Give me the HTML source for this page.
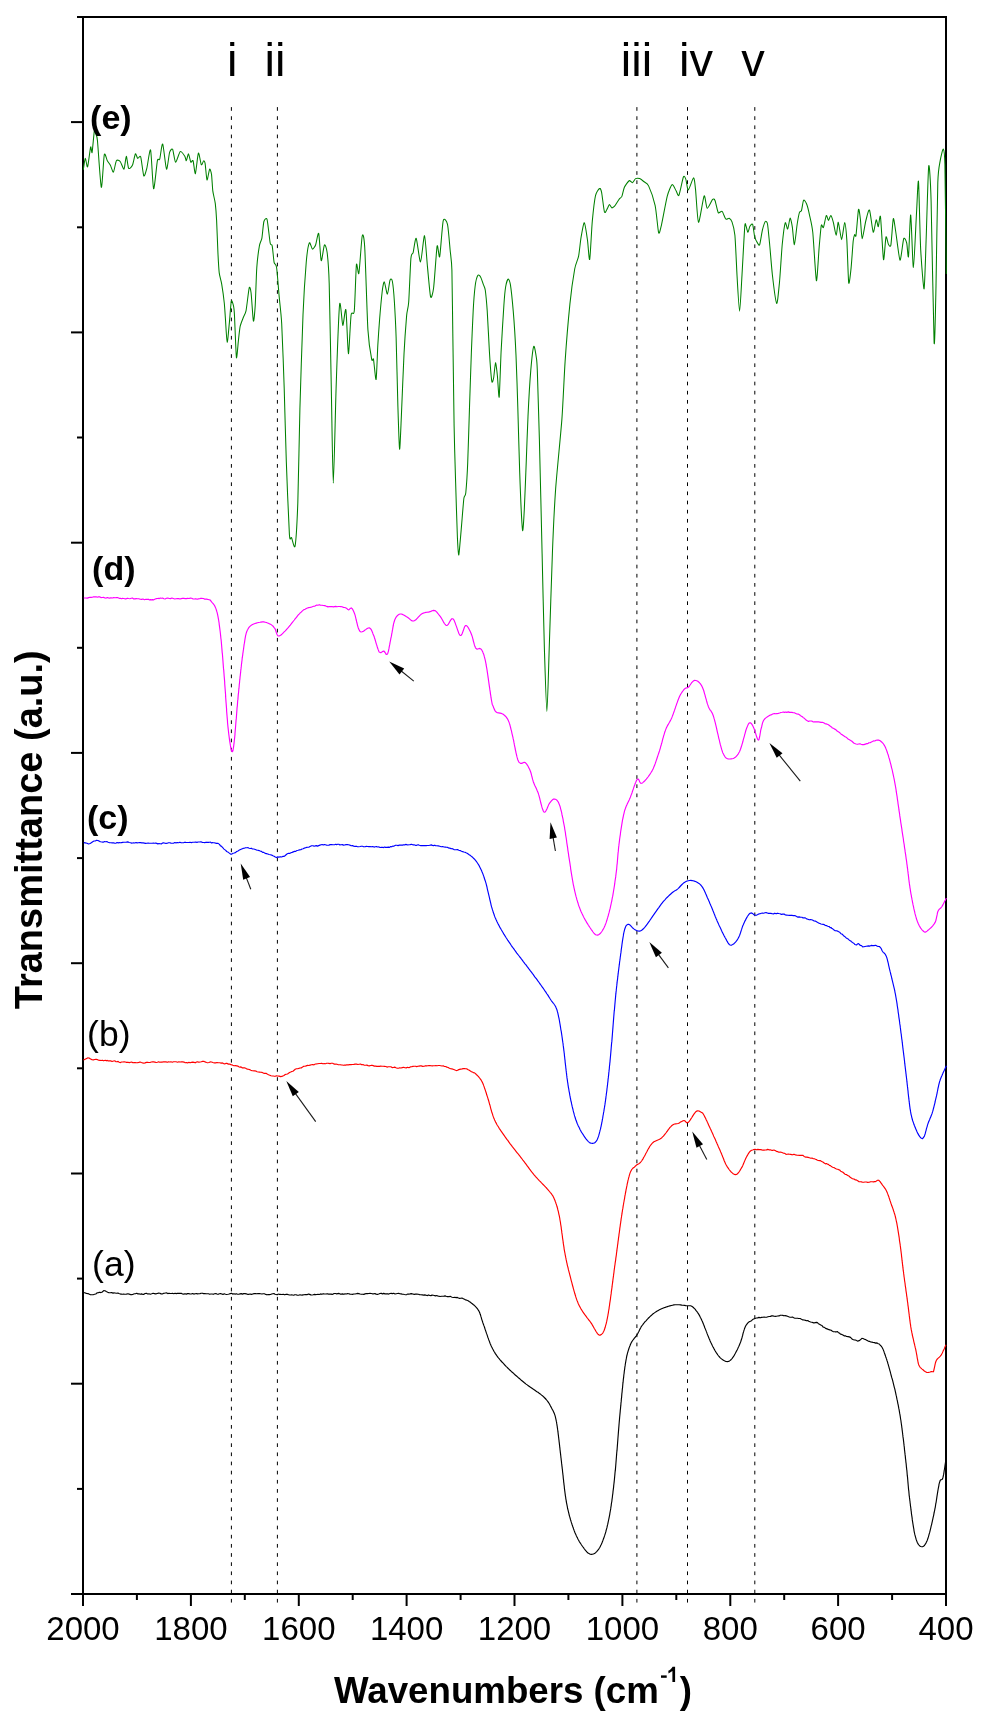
<!DOCTYPE html><html><head><meta charset="utf-8"><style>html,body{margin:0;padding:0;background:#fff;overflow:hidden;width:988px;height:1722px;}svg{display:block;will-change:transform;}text{font-family:"Liberation Sans",sans-serif;}</style></head><body>
<svg width="988" height="1722" viewBox="0 0 988 1722">
<rect width="988" height="1722" fill="#fff"/>
<rect x="83" y="17" width="863" height="1577" fill="none" stroke="#000" stroke-width="2"/>
<line x1="77" y1="17" x2="83" y2="17" stroke="#000" stroke-width="2"/>
<line x1="71" y1="122.1" x2="83" y2="122.1" stroke="#000" stroke-width="2"/>
<line x1="77" y1="227.3" x2="83" y2="227.3" stroke="#000" stroke-width="2"/>
<line x1="71" y1="332.4" x2="83" y2="332.4" stroke="#000" stroke-width="2"/>
<line x1="77" y1="437.5" x2="83" y2="437.5" stroke="#000" stroke-width="2"/>
<line x1="71" y1="542.7" x2="83" y2="542.7" stroke="#000" stroke-width="2"/>
<line x1="77" y1="647.8" x2="83" y2="647.8" stroke="#000" stroke-width="2"/>
<line x1="71" y1="752.9" x2="83" y2="752.9" stroke="#000" stroke-width="2"/>
<line x1="77" y1="858.1" x2="83" y2="858.1" stroke="#000" stroke-width="2"/>
<line x1="71" y1="963.2" x2="83" y2="963.2" stroke="#000" stroke-width="2"/>
<line x1="77" y1="1068.3" x2="83" y2="1068.3" stroke="#000" stroke-width="2"/>
<line x1="71" y1="1173.5" x2="83" y2="1173.5" stroke="#000" stroke-width="2"/>
<line x1="77" y1="1278.6" x2="83" y2="1278.6" stroke="#000" stroke-width="2"/>
<line x1="71" y1="1383.7" x2="83" y2="1383.7" stroke="#000" stroke-width="2"/>
<line x1="77" y1="1488.9" x2="83" y2="1488.9" stroke="#000" stroke-width="2"/>
<line x1="71" y1="1594" x2="83" y2="1594" stroke="#000" stroke-width="2"/>
<line x1="83" y1="1594" x2="83" y2="1606" stroke="#000" stroke-width="2"/>
<text x="83" y="1639.5" font-size="33" text-anchor="middle">2000</text>
<line x1="136.9" y1="1594" x2="136.9" y2="1600" stroke="#000" stroke-width="2"/>
<line x1="190.9" y1="1594" x2="190.9" y2="1606" stroke="#000" stroke-width="2"/>
<text x="190.9" y="1639.5" font-size="33" text-anchor="middle">1800</text>
<line x1="244.8" y1="1594" x2="244.8" y2="1600" stroke="#000" stroke-width="2"/>
<line x1="298.8" y1="1594" x2="298.8" y2="1606" stroke="#000" stroke-width="2"/>
<text x="298.8" y="1639.5" font-size="33" text-anchor="middle">1600</text>
<line x1="352.7" y1="1594" x2="352.7" y2="1600" stroke="#000" stroke-width="2"/>
<line x1="406.6" y1="1594" x2="406.6" y2="1606" stroke="#000" stroke-width="2"/>
<text x="406.6" y="1639.5" font-size="33" text-anchor="middle">1400</text>
<line x1="460.6" y1="1594" x2="460.6" y2="1600" stroke="#000" stroke-width="2"/>
<line x1="514.5" y1="1594" x2="514.5" y2="1606" stroke="#000" stroke-width="2"/>
<text x="514.5" y="1639.5" font-size="33" text-anchor="middle">1200</text>
<line x1="568.4" y1="1594" x2="568.4" y2="1600" stroke="#000" stroke-width="2"/>
<line x1="622.4" y1="1594" x2="622.4" y2="1606" stroke="#000" stroke-width="2"/>
<text x="622.4" y="1639.5" font-size="33" text-anchor="middle">1000</text>
<line x1="676.3" y1="1594" x2="676.3" y2="1600" stroke="#000" stroke-width="2"/>
<line x1="730.3" y1="1594" x2="730.3" y2="1606" stroke="#000" stroke-width="2"/>
<text x="730.3" y="1639.5" font-size="33" text-anchor="middle">800</text>
<line x1="784.2" y1="1594" x2="784.2" y2="1600" stroke="#000" stroke-width="2"/>
<line x1="838.1" y1="1594" x2="838.1" y2="1606" stroke="#000" stroke-width="2"/>
<text x="838.1" y="1639.5" font-size="33" text-anchor="middle">600</text>
<line x1="892.1" y1="1594" x2="892.1" y2="1600" stroke="#000" stroke-width="2"/>
<line x1="946" y1="1594" x2="946" y2="1606" stroke="#000" stroke-width="2"/>
<text x="946" y="1639.5" font-size="33" text-anchor="middle">400</text>
<line x1="231.4" y1="107.1" x2="231.4" y2="1603" stroke="#000" stroke-width="1" stroke-dasharray="3.7 5.452"/>
<line x1="277.4" y1="107.1" x2="277.4" y2="1603" stroke="#000" stroke-width="1" stroke-dasharray="3.7 5.452"/>
<line x1="636.9" y1="107.1" x2="636.9" y2="1603" stroke="#000" stroke-width="1" stroke-dasharray="3.7 5.452"/>
<line x1="687.5" y1="107.1" x2="687.5" y2="1603" stroke="#000" stroke-width="1" stroke-dasharray="3.7 5.452"/>
<line x1="754.8" y1="107.1" x2="754.8" y2="1603" stroke="#000" stroke-width="1" stroke-dasharray="3.7 5.452"/>
<path d="M83.5,1292.6 L84.7,1292.8 L86.4,1293.4 L88,1293.6 L89.3,1294.2 L90.6,1294.8 L92,1294.7 L93.2,1294.7 L94.5,1294.3 L95.8,1294 L97,1292.9 L98.4,1292.6 L99.7,1292.2 L101,1292.6 L102.3,1292 L103.7,1290.6 L105,1290.8 L106.3,1291.5 L107.7,1292.2 L109,1292.8 L110.3,1292.7 L111.6,1292.5 L113,1293.1 L114,1292.9 L115,1293 L116.2,1293.2 L118,1293.1 L118.8,1293.5 L119.7,1293.7 L120.5,1294.1 L121.4,1294.1 L122.4,1294.2 L123.6,1294.1 L124.9,1294.2 L126.3,1294.1 L128,1293.8 L130,1294.4 L130.9,1294.7 L131.8,1294.6 L132.7,1294.5 L133.7,1294 L134.7,1293.7 L135.7,1293.6 L136.8,1293.3 L137.9,1293.9 L139.1,1293.8 L140.2,1294.2 L141.4,1293.9 L142.6,1294.3 L143.9,1294.3 L145.1,1293.5 L146.4,1293.3 L147.7,1294 L149,1293.8 L150.4,1294.2 L151.7,1293.8 L153.1,1293.3 L154.4,1293.6 L155.8,1293.9 L157.2,1293.5 L158.6,1293.1 L160,1293.2 L161.1,1293.9 L162.2,1294 L163.3,1293.4 L164.4,1293.3 L165.5,1293 L166.7,1292.9 L167.8,1293.6 L169,1293.3 L170.2,1293.5 L171.4,1293.5 L172.6,1293.3 L173.8,1293.7 L175,1293.3 L176.3,1293.6 L177.5,1293.3 L178.8,1293.4 L180,1293.3 L181.3,1293.3 L182.5,1294 L183.8,1294.1 L185,1293.7 L186.3,1294.1 L187.6,1293.6 L188.8,1293.6 L190.1,1294 L191.3,1294 L192.6,1293.5 L193.8,1294.1 L195.1,1293.7 L196.3,1293.5 L197.6,1293.9 L198.8,1293.7 L200,1293.6 L201.2,1293.3 L202.4,1293.2 L203.6,1293.6 L204.8,1293.5 L206.1,1293.8 L207.3,1293.7 L208.5,1293.7 L209.7,1294.2 L210.9,1294 L212.1,1294 L213.3,1294.3 L214.5,1293.7 L215.8,1293.5 L217,1294.1 L218.2,1294.3 L219.4,1293.8 L220.6,1293.6 L221.8,1294 L223,1294.4 L224.2,1293.8 L225.5,1294.3 L226.7,1294.5 L227.9,1294.3 L229.1,1294 L230.3,1293.6 L231.5,1293.3 L232.7,1294.1 L233.9,1293.8 L235.2,1294.1 L236.4,1293.8 L237.6,1294.2 L238.8,1294.2 L240,1293.9 L241.2,1293.6 L242.5,1294.1 L243.7,1293.6 L245,1293.6 L246.3,1293.9 L247.5,1294.3 L248.8,1294.3 L250.1,1294 L251.5,1294.4 L252.8,1294 L254.1,1293.6 L255.4,1293.6 L256.7,1293.8 L258,1293.6 L259.3,1293.6 L260.6,1293.8 L261.9,1294 L263.2,1293.7 L264.4,1293.8 L265.7,1294.4 L266.9,1294.8 L268.1,1294.6 L269.4,1294.6 L270.5,1294.5 L271.7,1294 L272.8,1293.7 L273.9,1293.5 L275,1294.3 L276.1,1294.5 L277.1,1294.8 L278.1,1294.1 L279.1,1294.3 L280,1294.3 L281.8,1294.5 L283.4,1294.3 L284.8,1294.8 L286.2,1294.2 L287.4,1294.4 L288.5,1294.7 L289.6,1295 L290.6,1295 L291.6,1294.9 L292.6,1295 L293.7,1295.2 L294.8,1294.7 L295.9,1294.8 L297.2,1295.1 L298.5,1295.2 L300,1294.8 L301,1295 L302,1295.1 L303.1,1294.9 L304.1,1294.8 L305.2,1294.5 L306.3,1294.6 L307.4,1294.6 L308.5,1294.1 L309.6,1294.4 L310.8,1294.9 L312,1295 L313.2,1294.8 L314.4,1294.4 L315.6,1294.6 L316.8,1294.5 L318,1294.3 L319.3,1294.5 L320.6,1293.9 L321.9,1294.3 L323.2,1293.7 L324.5,1294 L325.9,1294 L327.2,1293.7 L328.6,1294.1 L330,1294 L331.1,1294.1 L332.2,1294.4 L333.3,1293.9 L334.4,1293.5 L335.5,1293.5 L336.7,1293.9 L337.8,1293.6 L339,1293.4 L340.2,1294.1 L341.4,1294.1 L342.6,1293.9 L343.8,1294.3 L345,1293.9 L346.3,1294 L347.5,1293.6 L348.8,1293.7 L350,1294.1 L351.3,1294.3 L352.5,1294.4 L353.8,1294 L355,1294 L356.3,1293.7 L357.6,1293.4 L358.8,1293.6 L360.1,1294 L361.3,1294.3 L362.6,1294.2 L363.8,1294.4 L365.1,1293.9 L366.3,1293.5 L367.6,1293.6 L368.8,1293.5 L370,1293.4 L371.2,1293.5 L372.4,1293.8 L373.7,1293.8 L374.9,1293.6 L376.2,1294.1 L377.4,1294.4 L378.7,1294 L379.9,1293.5 L381.2,1293.2 L382.4,1293.9 L383.7,1293.4 L385,1293.9 L386.2,1293.9 L387.5,1293.7 L388.7,1294.1 L390,1293.5 L391.2,1293.4 L392.5,1293.6 L393.7,1293.3 L395,1294 L396.2,1293.7 L397.4,1293.5 L398.6,1293.3 L399.8,1293.8 L401,1293.9 L402.2,1294.1 L403.3,1294.2 L404.5,1294.5 L405.6,1294.7 L406.7,1294.6 L407.8,1294.1 L408.9,1294.1 L410,1293.9 L411.4,1293.6 L412.8,1294 L414.2,1294.4 L415.6,1294.1 L416.9,1294.1 L418.3,1294.2 L419.6,1294.6 L421,1294.7 L422.3,1294.9 L423.6,1295.1 L424.9,1294.9 L426.1,1295.2 L427.4,1295.6 L428.6,1294.9 L429.8,1295.5 L430.9,1295.6 L432.1,1295.1 L433.2,1295.2 L434.3,1295.5 L435.3,1295.9 L436.3,1295.6 L437.3,1295.7 L438.2,1296.1 L439.1,1296.2 L440,1296.5 L441.9,1296.2 L443.6,1296.3 L445,1295.9 L446.2,1296.3 L447.3,1296.6 L448.3,1296.6 L449.2,1296.7 L450.1,1296.3 L451.1,1296.8 L452.1,1297.2 L453.5,1297.5 L454.8,1297.3 L456,1297.6 L457.3,1297.4 L458.5,1298 L459.7,1298.4 L460.8,1298.3 L462,1298.1 L463.3,1298.7 L464.5,1299.3 L465.7,1299.9 L466.9,1300.3 L468.1,1300.7 L469.2,1301.5 L470.4,1302.3 L471.3,1303 L472.3,1303.7 L473.2,1304.5 L474.2,1305.3 L475.1,1306.2 L476,1307.1 L476.9,1308.1 L477.7,1309.2 L478.5,1310.4 L479,1311.3 L479.5,1312.3 L479.9,1313.3 L480.2,1314.3 L480.6,1315.3 L480.9,1316.4 L481.3,1317.6 L481.6,1318.8 L482,1320.1 L482.5,1321.5 L482.9,1322.9 L483.5,1324.5 L483.8,1325.4 L484.2,1326.4 L484.6,1327.5 L484.9,1328.6 L485.3,1329.8 L485.7,1330.9 L486.1,1332.1 L486.5,1333.4 L487,1334.6 L487.4,1335.9 L487.8,1337.2 L488.3,1338.4 L488.7,1339.7 L489.2,1340.9 L489.7,1342.2 L490.1,1343.4 L490.6,1344.5 L491.1,1345.7 L491.6,1346.8 L492.1,1347.8 L492.6,1348.8 L493.3,1350 L493.9,1351.2 L494.6,1352.3 L495.2,1353.4 L495.9,1354.4 L496.6,1355.4 L497.3,1356.3 L498,1357.3 L498.7,1358.2 L499.5,1359.1 L500.3,1360.1 L501.1,1361 L502,1362 L502.9,1362.9 L503.8,1363.9 L504.8,1365 L505.6,1365.8 L506.3,1366.6 L507.2,1367.4 L508,1368.3 L508.9,1369.1 L509.8,1370 L510.7,1370.8 L511.6,1371.7 L512.6,1372.5 L513.6,1373.4 L514.5,1374.3 L515.5,1375.2 L516.5,1376 L517.5,1376.9 L518.4,1377.7 L519.4,1378.5 L520.4,1379.4 L521.3,1380.2 L522.3,1381 L523.2,1381.7 L524.1,1382.5 L525,1383.2 L526.1,1384.1 L527.2,1384.9 L528.3,1385.7 L529.4,1386.5 L530.5,1387.3 L531.6,1388 L532.7,1388.8 L533.8,1389.5 L534.9,1390.2 L535.9,1391 L536.9,1391.7 L538,1392.3 L538.9,1393 L539.9,1393.7 L540.8,1394.4 L541.6,1395.1 L542.4,1395.7 L543.2,1396.4 L544.3,1397.5 L545.3,1398.5 L546.2,1399.5 L547,1400.5 L547.7,1401.4 L548.4,1402.4 L549,1403.3 L549.6,1404.3 L550.1,1405.3 L550.7,1406.4 L551.3,1407.5 L551.8,1408.5 L552.3,1409.4 L552.8,1410.2 L553.2,1411 L553.6,1411.9 L554,1412.8 L554.4,1413.8 L554.8,1414.9 L555.2,1416.2 L555.6,1417.8 L556,1419.6 L556.4,1421.7 L556.6,1422.5 L556.7,1423.4 L556.9,1424.3 L557,1425.3 L557.2,1426.2 L557.3,1427.3 L557.5,1428.3 L557.6,1429.4 L557.8,1430.5 L557.9,1431.7 L558.1,1432.9 L558.2,1434.1 L558.4,1435.3 L558.5,1436.5 L558.7,1437.8 L558.8,1439 L559,1440.3 L559.1,1441.6 L559.3,1442.9 L559.4,1444.2 L559.6,1445.5 L559.7,1446.8 L559.9,1448.2 L560,1449.5 L560.2,1450.8 L560.3,1452.1 L560.5,1453.4 L560.6,1454.7 L560.8,1456 L560.9,1457.3 L561.1,1458.5 L561.2,1459.8 L561.4,1461 L561.5,1462.2 L561.6,1463.4 L561.8,1464.6 L561.9,1465.8 L562.1,1467.1 L562.2,1468.3 L562.4,1469.5 L562.5,1470.8 L562.6,1472 L562.8,1473.3 L562.9,1474.5 L563.1,1475.8 L563.2,1477.1 L563.3,1478.3 L563.5,1479.6 L563.6,1480.8 L563.7,1482.1 L563.9,1483.3 L564,1484.6 L564.2,1485.8 L564.3,1487 L564.4,1488.3 L564.6,1489.5 L564.7,1490.6 L564.9,1491.8 L565,1493 L565.2,1494.1 L565.3,1495.3 L565.5,1496.4 L565.7,1497.5 L565.8,1498.6 L566,1499.6 L566.2,1500.7 L566.3,1501.7 L566.5,1502.7 L566.8,1504.2 L567.1,1505.7 L567.4,1507.1 L567.6,1508.5 L568,1509.8 L568.3,1511.2 L568.6,1512.5 L568.9,1513.7 L569.2,1515 L569.5,1516.2 L569.9,1517.4 L570.2,1518.5 L570.5,1519.7 L570.9,1520.8 L571.2,1521.9 L571.5,1522.9 L571.9,1524 L572.2,1525 L572.6,1526 L572.9,1527 L573.3,1528 L573.6,1529 L574.1,1530.4 L574.6,1531.7 L575.1,1533 L575.7,1534.2 L576.2,1535.4 L576.7,1536.5 L577.3,1537.6 L577.8,1538.7 L578.3,1539.7 L578.9,1540.7 L579.4,1541.7 L580,1542.6 L580.6,1543.5 L581.1,1544.3 L581.7,1545.2 L582.6,1546.5 L583.5,1547.7 L584.4,1549 L585.3,1550.1 L586.2,1551.2 L587.1,1552.2 L588,1553 L589,1553.6 L589.9,1554.1 L590.8,1554.3 L591.8,1554.3 L592.8,1554.1 L593.9,1553.8 L594.9,1553.2 L595.9,1552.4 L596.9,1551.4 L597.9,1550.2 L598.9,1548.8 L599.9,1547.2 L600.3,1546.4 L600.7,1545.6 L601.1,1544.8 L601.5,1543.9 L601.9,1543 L602.3,1542 L602.7,1541 L603.1,1539.9 L603.5,1538.8 L603.9,1537.7 L604.3,1536.6 L604.7,1535.4 L605.1,1534.1 L605.5,1532.8 L605.9,1531.5 L606.2,1530.2 L606.6,1528.8 L607,1527.4 L607.3,1525.9 L607.7,1524.4 L608,1522.9 L608.2,1521.9 L608.4,1521 L608.6,1520 L608.8,1519.1 L609,1518.1 L609.2,1517.1 L609.4,1516.1 L609.6,1515.1 L609.8,1514.1 L609.9,1513.1 L610.1,1512.1 L610.3,1511 L610.5,1510 L610.7,1508.9 L610.8,1507.8 L611,1506.7 L611.2,1505.6 L611.3,1504.4 L611.5,1503.2 L611.7,1502 L611.9,1500.8 L612,1499.6 L612.2,1498.3 L612.4,1497 L612.5,1495.7 L612.7,1494.4 L612.9,1493 L613,1491.6 L613.2,1490.1 L613.4,1488.7 L613.6,1487.1 L613.7,1485.6 L613.9,1484 L614.1,1482.4 L614.2,1481.4 L614.3,1480.5 L614.4,1479.5 L614.5,1478.4 L614.6,1477.4 L614.7,1476.3 L614.8,1475.2 L614.9,1474.1 L615,1473 L615.1,1471.9 L615.3,1470.7 L615.4,1469.6 L615.5,1468.4 L615.6,1467.2 L615.7,1466 L615.8,1464.7 L615.9,1463.5 L616,1462.2 L616.1,1461 L616.2,1459.7 L616.3,1458.4 L616.4,1457.2 L616.5,1455.9 L616.6,1454.6 L616.7,1453.3 L616.8,1452 L617,1450.7 L617.1,1449.4 L617.2,1448 L617.3,1446.7 L617.4,1445.4 L617.5,1444.1 L617.6,1442.8 L617.7,1441.5 L617.8,1440.2 L617.9,1438.8 L618,1437.5 L618.1,1436.2 L618.2,1435 L618.3,1433.7 L618.4,1432.4 L618.5,1431.1 L618.6,1429.9 L618.7,1428.6 L618.8,1427.4 L618.9,1426.2 L619,1424.9 L619.1,1423.7 L619.2,1422.5 L619.3,1421.4 L619.4,1420.2 L619.5,1419.1 L619.6,1417.9 L619.7,1416.8 L619.8,1415.8 L619.9,1414.7 L620,1413.6 L620.1,1412.6 L620.2,1411.6 L620.3,1410.1 L620.5,1408.6 L620.6,1407.2 L620.8,1405.7 L620.9,1404.3 L621,1402.8 L621.2,1401.4 L621.3,1400 L621.4,1398.7 L621.6,1397.3 L621.7,1395.9 L621.8,1394.6 L621.9,1393.3 L622.1,1392 L622.2,1390.7 L622.3,1389.4 L622.5,1388.2 L622.6,1387 L622.7,1385.7 L622.8,1384.5 L622.9,1383.4 L623.1,1382.2 L623.2,1381 L623.3,1379.9 L623.4,1378.8 L623.6,1377.7 L623.7,1376.6 L623.8,1375.5 L623.9,1374.5 L624.1,1373.5 L624.2,1372.4 L624.3,1371.4 L624.4,1370.5 L624.6,1369.5 L624.7,1368.6 L624.8,1367.7 L624.9,1366.8 L625.1,1365.9 L625.2,1365 L625.5,1363.1 L625.8,1361.4 L626.1,1359.7 L626.4,1358.2 L626.6,1356.8 L626.9,1355.5 L627.2,1354.3 L627.5,1353.2 L627.8,1352.1 L628.1,1351.1 L628.4,1350.1 L628.7,1349.2 L629,1348.3 L629.3,1347.4 L629.6,1346.6 L630,1345.7 L630.3,1344.8 L630.9,1343.4 L631.6,1342.1 L632.3,1341 L633,1340 L633.7,1339.1 L634.4,1338.2 L635.1,1337.3 L635.8,1336.5 L636.5,1335.6 L637.1,1334.7 L637.8,1333.5 L638.4,1332.3 L639,1331.2 L639.5,1330 L640.1,1328.9 L640.7,1327.8 L641.3,1326.6 L642.1,1325.5 L642.8,1324.6 L643.5,1323.6 L644.3,1322.7 L645.1,1321.7 L646,1320.8 L646.8,1319.8 L647.7,1318.9 L648.5,1318 L649.4,1317.2 L650.2,1316.4 L651.2,1315.5 L652.2,1314.6 L653.1,1313.8 L654.1,1313.1 L655.1,1312.4 L656.1,1311.7 L657.2,1311 L658.3,1310.4 L659.4,1309.8 L660.5,1309.3 L661.6,1308.8 L662.8,1308.3 L664,1307.8 L665.2,1307.4 L666.3,1307 L667.4,1306.6 L668.5,1306.3 L669.9,1305.9 L671.3,1305.5 L672.6,1305.2 L673.8,1304.9 L675.2,1304.8 L676.6,1304.7 L677.8,1304.7 L679.1,1304.8 L680.5,1304.9 L681.8,1305.1 L683.2,1305.2 L684.5,1305.4 L685.7,1305.6 L686.7,1305.7 L688.3,1305.8 L689.5,1305.7 L690.6,1305.8 L691.7,1306.3 L692.5,1306.8 L693.4,1307.5 L694.2,1308.3 L695.1,1309.2 L695.9,1310.3 L696.8,1311.4 L697.4,1312.3 L698,1313.1 L698.5,1313.9 L699.1,1314.9 L699.7,1315.9 L700.3,1317.2 L701.1,1318.7 L701.9,1320.5 L702.3,1321.3 L702.7,1322.2 L703.1,1323.2 L703.5,1324.3 L703.9,1325.3 L704.4,1326.5 L704.8,1327.7 L705.3,1328.9 L705.8,1330.1 L706.3,1331.4 L706.8,1332.6 L707.2,1333.9 L707.7,1335.1 L708.2,1336.3 L708.7,1337.5 L709.2,1338.7 L709.7,1339.8 L710.1,1340.9 L710.6,1341.9 L711,1342.8 L711.7,1344.2 L712.3,1345.5 L712.9,1346.7 L713.6,1347.9 L714.2,1349.1 L714.8,1350.2 L715.4,1351.2 L716,1352.2 L716.6,1353.2 L717.3,1354.1 L717.9,1355 L718.5,1355.8 L719.1,1356.5 L720.3,1357.8 L721.5,1358.9 L722.7,1359.8 L723.9,1360.6 L725,1361.1 L726.2,1361.5 L727.2,1361.6 L728.3,1361.5 L729.3,1361.1 L730.3,1360.4 L731.2,1359.5 L732.2,1358.3 L733.2,1356.9 L733.7,1356.1 L734.3,1355.3 L734.8,1354.3 L735.4,1353.3 L735.9,1352.3 L736.5,1351.1 L737.1,1350 L737.7,1348.8 L738.2,1347.6 L738.8,1346.4 L739.3,1345.2 L739.8,1344 L740.3,1342.8 L740.7,1341.7 L741.1,1340.5 L741.5,1339.3 L741.9,1338 L742.2,1336.8 L742.6,1335.5 L742.9,1334.2 L743.2,1332.9 L743.6,1331.7 L743.9,1330.6 L744.3,1329.4 L744.6,1328.4 L745,1327.5 L745.4,1326.6 L746.2,1325.1 L747,1324 L747.7,1323.2 L748.6,1322.2 L749.4,1321.6 L750.4,1321.3 L751.5,1320.7 L752.6,1319.6 L753.7,1319.1 L755,1318.5 L756.3,1318 L757.6,1317.9 L759,1317.4 L760.3,1317.8 L761.6,1317.4 L762.9,1317.2 L764.1,1317.1 L765.4,1317.2 L766.6,1317.2 L767.9,1316.8 L769.2,1316.5 L770.4,1316.4 L771.7,1315.9 L772.9,1315.9 L774.1,1316.2 L775.3,1316.4 L776.5,1316.3 L777.7,1316 L779,1315.9 L780.3,1315.2 L781.8,1315.3 L782.8,1315.4 L783.9,1315.8 L785.1,1315.6 L786.3,1315.9 L787.5,1316.2 L788.7,1316.8 L790,1317.2 L791.2,1317.3 L792.5,1317.1 L793.7,1317.7 L794.9,1318.2 L796,1318.3 L797.4,1318.2 L798.8,1318.5 L800.2,1318.5 L801.5,1319.2 L802.9,1319.9 L804.2,1320 L805.5,1320.4 L806.7,1320.8 L807.7,1320.5 L808.7,1321.3 L810.6,1322 L811.9,1322.3 L813,1322.6 L813.9,1323 L815.1,1322.6 L816.6,1322.4 L817.4,1322.6 L818.4,1323.7 L819.5,1324.2 L820.7,1325 L822,1325.6 L823.2,1327.1 L824.4,1327.3 L825.6,1328.4 L827,1328.9 L828.3,1329.4 L829.7,1329.9 L831,1330.1 L832.1,1331 L833.1,1331.6 L835.1,1331.8 L836.6,1331.8 L837.5,1331.6 L838.4,1332.7 L839.4,1333 L840.5,1334.2 L841.8,1334.4 L842.9,1335 L844.1,1335.8 L845.3,1335.8 L846.6,1336.5 L848,1336.6 L849.3,1336.9 L850.5,1337.4 L851.7,1338.7 L852.9,1339.5 L854.2,1339.9 L855.4,1340 L856.5,1340.6 L857.5,1341.1 L858.4,1340.9 L859.7,1340.4 L860.6,1339.6 L861.9,1338.4 L862.9,1338.5 L864.1,1339.1 L865.4,1339.5 L866.7,1340.2 L868.2,1341.1 L869.7,1341.4 L870.8,1342 L872,1342.1 L873.2,1342.5 L874.5,1342.6 L875.7,1343.1 L877,1342.9 L878.2,1343.8 L879.3,1344 L880.2,1345.2 L881,1345.9 L881.7,1346.8 L882.3,1347.7 L882.9,1348.9 L883.4,1350.1 L883.9,1351.4 L884.3,1352.7 L884.9,1354.2 L885.4,1355.7 L885.7,1356.7 L886.1,1357.7 L886.4,1358.7 L886.8,1359.8 L887.1,1360.9 L887.5,1362 L887.8,1363.2 L888.2,1364.4 L888.5,1365.6 L888.9,1366.9 L889.2,1368.1 L889.6,1369.4 L889.9,1370.6 L890.3,1371.9 L890.6,1373.2 L890.9,1374.3 L891.2,1375.5 L891.5,1376.6 L891.8,1377.7 L892.2,1378.9 L892.5,1380 L892.8,1381.2 L893.1,1382.4 L893.4,1383.6 L893.7,1384.8 L894,1386.1 L894.3,1387.3 L894.7,1388.6 L895,1389.9 L895.3,1391.3 L895.6,1392.7 L895.9,1394.1 L896.1,1395.2 L896.4,1396.2 L896.6,1397.3 L896.8,1398.3 L897,1399.4 L897.3,1400.5 L897.5,1401.6 L897.7,1402.7 L897.9,1403.8 L898.2,1404.9 L898.4,1406.1 L898.6,1407.2 L898.8,1408.4 L899.1,1409.6 L899.3,1410.9 L899.5,1412.1 L899.7,1413.4 L900,1414.8 L900.2,1416.1 L900.4,1417.5 L900.6,1419 L900.9,1420.5 L901.1,1422 L901.2,1423 L901.4,1424 L901.5,1425.1 L901.7,1426.2 L901.8,1427.3 L902,1428.4 L902.1,1429.6 L902.3,1430.8 L902.4,1432 L902.6,1433.2 L902.7,1434.4 L902.9,1435.7 L903,1436.9 L903.2,1438.2 L903.4,1439.5 L903.5,1440.7 L903.7,1442 L903.8,1443.3 L904,1444.6 L904.1,1445.9 L904.3,1447.2 L904.4,1448.5 L904.5,1449.8 L904.7,1451.1 L904.8,1452.3 L905,1453.6 L905.1,1454.9 L905.3,1456.1 L905.4,1457.4 L905.5,1458.6 L905.7,1459.8 L905.8,1461 L905.9,1462.1 L906.1,1463.3 L906.2,1464.4 L906.3,1465.5 L906.4,1466.8 L906.6,1468.2 L906.7,1469.5 L906.9,1470.7 L907,1472 L907.1,1473.3 L907.2,1474.5 L907.3,1475.7 L907.5,1476.9 L907.6,1478.1 L907.7,1479.3 L907.8,1480.5 L907.9,1481.7 L908,1482.9 L908.1,1484 L908.2,1485.2 L908.3,1486.3 L908.4,1487.5 L908.5,1488.6 L908.6,1489.8 L908.8,1490.9 L908.9,1492.1 L909,1493.2 L909.1,1494.4 L909.2,1495.6 L909.4,1496.7 L909.5,1497.9 L909.7,1499.1 L909.8,1500.3 L910,1501.5 L910.1,1502.8 L910.3,1504 L910.4,1505.3 L910.6,1506.6 L910.8,1507.9 L910.9,1509.2 L911.1,1510.6 L911.3,1511.9 L911.4,1513.2 L911.6,1514.6 L911.8,1515.9 L912,1517.2 L912.2,1518.6 L912.3,1519.9 L912.5,1521.2 L912.7,1522.4 L912.9,1523.7 L913.1,1524.9 L913.3,1526.1 L913.5,1527.3 L913.7,1528.4 L913.9,1529.5 L914,1530.6 L914.2,1531.6 L914.4,1532.6 L914.6,1533.5 L914.8,1534.4 L915,1535.2 L915.6,1537.4 L916.1,1539.2 L916.7,1540.9 L917.2,1542.3 L917.8,1543.4 L918.4,1544.4 L919,1545.1 L919.6,1545.7 L920.2,1546.2 L920.8,1546.5 L921.7,1546.7 L922.6,1546.7 L923.5,1546.2 L924.4,1545.5 L925.3,1544.2 L926.2,1542.6 L927.2,1540.4 L927.5,1539.6 L927.8,1538.8 L928.1,1537.8 L928.4,1536.9 L928.7,1535.8 L929,1534.7 L929.3,1533.6 L929.7,1532.4 L930,1531.1 L930.3,1529.9 L930.6,1528.6 L930.9,1527.3 L931.2,1525.9 L931.6,1524.6 L931.9,1523.2 L932.2,1521.8 L932.5,1520.4 L932.8,1519.1 L933.1,1517.7 L933.4,1516.4 L933.7,1515.1 L933.9,1513.8 L934.2,1512.5 L934.4,1511.3 L934.7,1510.1 L934.9,1508.9 L935.2,1507.6 L935.4,1506.3 L935.6,1505 L935.8,1503.6 L936.1,1502.3 L936.3,1501 L936.5,1499.6 L936.7,1498.3 L936.9,1496.9 L937.1,1495.6 L937.3,1494.3 L937.5,1493.1 L937.7,1491.8 L937.9,1490.6 L938.1,1489.5 L938.3,1488.3 L938.5,1487.3 L938.7,1486.3 L938.9,1485.3 L939,1484.4 L939.2,1483.6 L939.4,1482.9 L940.2,1480.5 L940.9,1479.7 L941.6,1479.6 L942.3,1479.2 L942.9,1477.7 L943.1,1476.8 L943.3,1475.8 L943.6,1474.7 L943.8,1473.4 L944,1472.1 L944.2,1470.7 L944.5,1469.2 L944.7,1467.8 L944.9,1466.3 L945.1,1464.9 L945.3,1463.6 L945.5,1462.3 L945.6,1461.1 L945.8,1460.1 L945.9,1459.2 L946,1458.5" fill="none" stroke="#000" stroke-width="1.15" stroke-linejoin="round"/>
<path d="M83.5,1060.1 L84.6,1059.5 L86.1,1058.7 L87.6,1057.9 L89.1,1058 L90.6,1059 L92,1059.6 L93.4,1059.9 L94.7,1059.5 L96,1059.2 L97.3,1059.6 L98.6,1060.3 L100,1060.4 L101.1,1060.5 L102.3,1060.2 L103.6,1060.8 L105.3,1060.3 L106.3,1060.8 L107.3,1060.4 L108.4,1060.9 L109.5,1060.8 L110.7,1060.9 L112.1,1061.5 L113.5,1061 L115,1060.9 L116,1061.7 L117,1061.7 L118.1,1061.4 L119.2,1062.2 L120.4,1062.6 L121.6,1062 L122.8,1062 L124.1,1061.8 L125.3,1062 L126.6,1062.4 L127.9,1062.2 L129.3,1062.6 L130.6,1062.2 L131.7,1062.1 L132.8,1062.7 L134,1062.6 L135.2,1062.5 L136.4,1062.7 L137.6,1062.6 L138.9,1062.4 L140.1,1062 L141.4,1062.5 L142.6,1062.9 L143.9,1063.1 L145.1,1062.9 L146.4,1062.4 L147.6,1062.2 L148.8,1062.5 L150,1062.5 L151.3,1062 L152.5,1061.9 L153.7,1061.9 L154.9,1062.1 L156.2,1062.5 L157.4,1062.3 L158.6,1061.8 L159.8,1062.3 L161,1062.1 L162.2,1062.1 L163.5,1061.8 L164.7,1061.9 L166,1061.9 L167.3,1062.3 L168.6,1061.8 L169.8,1062 L171,1061.8 L172.3,1062.2 L173.5,1061.7 L174.8,1061.7 L176.1,1061.8 L177.5,1062.2 L178.8,1061.8 L180.1,1062 L181.4,1061.9 L182.7,1061.9 L184,1062.1 L185.2,1062.7 L186.5,1062.5 L187.7,1062.9 L188.9,1062.3 L190,1062.8 L191.4,1062.4 L192.8,1062.1 L194.1,1062.4 L195.3,1062.8 L196.5,1062 L197.7,1061.8 L198.9,1062.3 L200.1,1062 L201.3,1061.8 L202.5,1061.4 L203.8,1061.3 L205.1,1061.9 L206.5,1062.5 L207.7,1062.8 L208.9,1062.5 L210.2,1061.9 L211.5,1062 L212.9,1062.5 L214.3,1062.9 L215.7,1062.9 L217,1062.5 L218.4,1062.7 L219.8,1062.8 L221.1,1063.1 L222.4,1062.9 L223.6,1063.6 L224.7,1063.9 L225.8,1063.4 L226.8,1063.4 L228.5,1064.1 L229.8,1064 L230.9,1064.8 L231.9,1064.9 L232.8,1065.3 L233.9,1065.7 L235.2,1065.6 L236.9,1065.9 L237.8,1066.1 L238.8,1066.7 L239.9,1067.1 L241,1066.9 L242.1,1067.8 L243.3,1067.8 L244.5,1067.8 L245.7,1068.2 L247,1069.1 L248.3,1069.3 L249.6,1069.6 L250.8,1070.2 L252.1,1070.7 L253.4,1070.8 L254.7,1070.8 L255.9,1071.1 L257.1,1071.7 L258.3,1072 L259.5,1072.1 L260.8,1072.2 L262.1,1072.4 L263.4,1073.1 L264.7,1073.4 L266,1073.3 L267.2,1074.1 L268.5,1074.8 L269.8,1075.2 L271,1075.7 L272.2,1076 L273.3,1076 L274.4,1076.3 L275.5,1076.1 L276.5,1075.8 L277.4,1076 L279.1,1076.1 L280.6,1076.6 L281.8,1076.4 L282.9,1075.9 L284,1075.5 L285,1074.6 L286.2,1074.2 L287.5,1074 L288.5,1073.3 L289.6,1072.6 L290.7,1072.1 L291.8,1071.5 L292.9,1071.2 L294.1,1070.2 L295.2,1069.3 L296.4,1068.8 L297.6,1068.7 L298.8,1068.4 L300.1,1068 L301.3,1067.9 L302.5,1067.1 L303.7,1066.2 L305,1066.1 L306.2,1065.9 L307.5,1065.4 L308.8,1065.5 L310.1,1065.1 L311.4,1064.7 L312.7,1064.5 L314,1064.9 L315.3,1064 L316.5,1063.9 L317.8,1063.7 L319,1063.5 L320.3,1063.5 L321.6,1063.3 L322.9,1063.8 L324.2,1063.6 L325.5,1063.7 L326.7,1063.2 L327.9,1063.2 L329,1063.4 L330.1,1063.7 L331.1,1063.2 L332.7,1063.3 L333.9,1063.9 L334.9,1064.3 L335.9,1064 L337,1064.3 L338.4,1064.8 L340.2,1064.7 L341.2,1064.9 L342.2,1065 L343.3,1065.3 L344.5,1065.1 L345.7,1065.1 L347,1064.7 L348.3,1064.9 L349.7,1064.6 L351,1064.6 L352.4,1064.5 L353.8,1064.4 L355.2,1064.1 L356.5,1064.1 L357.9,1064.5 L359.2,1064.3 L360.5,1064.1 L361.8,1064.8 L363,1064.6 L364.3,1065.2 L365.6,1065.2 L366.8,1065.1 L368.1,1065.6 L369.3,1065.9 L370.6,1065.5 L371.9,1065.2 L373.1,1065.6 L374.4,1066.1 L375.6,1066.1 L376.9,1066.4 L378.2,1066.2 L379.4,1066.4 L380.7,1066.1 L382,1066.2 L383.2,1066.3 L384.5,1066.4 L385.8,1066.5 L387,1067.1 L388.3,1066.7 L389.6,1066.7 L390.9,1066.8 L392.1,1067.6 L393.4,1067.5 L394.7,1067.1 L395.9,1067.7 L397.2,1068.1 L398.5,1068.2 L399.7,1067.8 L401,1068 L402.3,1067.6 L403.6,1067.3 L404.9,1067.8 L406.2,1067.9 L407.6,1067.3 L408.9,1067.7 L410.3,1066.9 L411.6,1066.8 L412.9,1066.4 L414.2,1066.3 L415.5,1066.2 L416.7,1066.6 L417.9,1066.3 L419.1,1066.1 L420.2,1065.9 L421.2,1065.9 L422.7,1066.4 L424.2,1066.3 L425.5,1065.7 L426.7,1065.9 L427.8,1065.8 L428.9,1065.6 L430,1065.6 L431.1,1065.7 L432.2,1065.9 L433.4,1065.7 L434.6,1065.7 L435.9,1065.6 L437.1,1065.7 L438.3,1065.5 L439.6,1065.5 L440.8,1065.7 L442,1066 L443.2,1065.8 L444.4,1066.5 L445.5,1066.5 L446.9,1067.1 L448.2,1067.5 L449.4,1068.3 L450.7,1068.7 L451.9,1068.9 L453.1,1069.3 L454.4,1069.8 L455.6,1070.3 L456.9,1070.6 L458.2,1069.9 L459.5,1069.4 L460.8,1069.1 L462.1,1068.9 L463.3,1068.6 L464.5,1068.5 L465.7,1068.8 L467,1068.9 L468.2,1069.7 L469.3,1070.2 L470.4,1071 L471.5,1071.7 L472.7,1072.1 L473.8,1072.9 L474.6,1072.9 L475.5,1073.6 L476.3,1074.5 L477.1,1075.2 L478,1076.1 L478.8,1077 L479.6,1078 L480.4,1079.1 L481.2,1080.2 L481.9,1081.5 L482.4,1082.4 L482.8,1083.3 L483.2,1084.3 L483.6,1085.4 L484,1086.4 L484.4,1087.6 L484.8,1088.7 L485.2,1089.9 L485.6,1091.1 L486,1092.3 L486.4,1093.5 L486.7,1094.8 L487.2,1096.1 L487.6,1097.4 L488,1098.7 L488.3,1099.8 L488.7,1100.8 L489,1102 L489.3,1103.1 L489.6,1104.3 L490,1105.4 L490.3,1106.6 L490.6,1107.8 L490.9,1109.1 L491.3,1110.3 L491.6,1111.5 L492,1112.7 L492.4,1113.9 L492.8,1115.2 L493.2,1116.4 L493.6,1117.5 L494.1,1118.7 L494.6,1119.9 L495.1,1121 L495.6,1122.1 L496.2,1123.1 L496.7,1124.2 L497.3,1125.2 L498,1126.3 L498.6,1127.3 L499.2,1128.3 L499.9,1129.3 L500.6,1130.4 L501.3,1131.4 L502,1132.4 L502.7,1133.4 L503.4,1134.4 L504.1,1135.4 L504.8,1136.4 L505.5,1137.3 L506.2,1138.3 L506.9,1139.3 L507.6,1140.2 L508.3,1141.2 L509.1,1142.3 L509.8,1143.3 L510.6,1144.3 L511.4,1145.3 L512.1,1146.4 L512.9,1147.4 L513.7,1148.4 L514.5,1149.4 L515.3,1150.4 L516,1151.3 L516.8,1152.3 L517.6,1153.3 L518.4,1154.2 L519.1,1155.2 L519.9,1156.2 L520.6,1157.1 L521.4,1158.1 L522.1,1159 L522.9,1160.1 L523.7,1161.1 L524.5,1162.1 L525.2,1163.2 L526,1164.2 L526.7,1165.2 L527.4,1166.2 L528.2,1167.2 L528.9,1168.2 L529.6,1169.2 L530.4,1170.2 L531.1,1171.2 L531.9,1172.2 L532.7,1173.1 L533.5,1174.1 L534.3,1175.1 L535.1,1176 L535.9,1177 L536.8,1177.9 L537.7,1178.9 L538.6,1179.8 L539.5,1180.8 L540.4,1181.7 L541.3,1182.7 L542.2,1183.6 L543.1,1184.5 L544,1185.4 L544.9,1186.3 L545.7,1187.2 L546.5,1188 L547.2,1188.8 L547.9,1189.6 L548.5,1190.3 L549.5,1191.5 L550.4,1192.6 L551.1,1193.4 L551.8,1194.3 L552.3,1195.1 L552.9,1195.9 L553.4,1196.9 L553.9,1198 L554.5,1199.4 L554.9,1200.3 L555.2,1201.2 L555.6,1202.2 L555.9,1203.2 L556.3,1204.2 L556.6,1205.2 L556.9,1206.3 L557.3,1207.5 L557.6,1208.7 L557.9,1210 L558.3,1211.3 L558.6,1212.8 L558.9,1214.3 L559.3,1215.9 L559.6,1217.6 L559.8,1218.5 L559.9,1219.5 L560.1,1220.5 L560.3,1221.6 L560.5,1222.7 L560.6,1223.8 L560.8,1225 L561,1226.2 L561.2,1227.4 L561.3,1228.6 L561.5,1229.9 L561.7,1231.1 L561.8,1232.4 L562,1233.7 L562.2,1235 L562.4,1236.3 L562.5,1237.6 L562.7,1238.9 L562.9,1240.2 L563.1,1241.5 L563.2,1242.7 L563.4,1244 L563.6,1245.2 L563.8,1246.4 L564,1247.6 L564.1,1248.8 L564.3,1249.9 L564.5,1251 L564.7,1252.1 L565,1253.5 L565.2,1254.8 L565.5,1256.1 L565.7,1257.4 L566,1258.6 L566.2,1259.9 L566.5,1261.1 L566.7,1262.3 L567,1263.4 L567.2,1264.6 L567.5,1265.8 L567.8,1266.9 L568.1,1268 L568.3,1269.2 L568.6,1270.3 L568.9,1271.4 L569.2,1272.6 L569.5,1273.7 L569.8,1274.9 L570.1,1276 L570.4,1277.2 L570.7,1278.4 L571,1279.6 L571.3,1280.8 L571.7,1282.1 L572,1283.3 L572.3,1284.5 L572.6,1285.8 L573,1287 L573.3,1288.3 L573.7,1289.6 L574,1290.8 L574.4,1292.1 L574.7,1293.3 L575.1,1294.5 L575.5,1295.7 L575.8,1296.9 L576.2,1298.1 L576.6,1299.3 L577,1300.4 L577.5,1301.5 L577.9,1302.6 L578.3,1303.7 L578.8,1304.7 L579.4,1305.9 L580,1307.1 L580.6,1308.3 L581.3,1309.4 L582,1310.5 L582.7,1311.6 L583.4,1312.6 L584.1,1313.7 L584.8,1314.7 L585.6,1315.7 L586.3,1316.6 L587,1317.6 L587.7,1318.5 L588.4,1319.4 L589.1,1320.3 L589.8,1321.2 L590.4,1322 L591,1322.9 L591.9,1324.2 L592.7,1325.6 L593.5,1327 L594.3,1328.5 L595.1,1329.8 L595.9,1331.2 L596.6,1332.3 L597.3,1333.4 L598,1334.2 L598.7,1334.8 L599.4,1335.1 L600.1,1335.1 L600.7,1334.9 L601.2,1334.6 L601.7,1334.2 L602.2,1333.7 L602.7,1333.1 L603.2,1332.3 L603.7,1331.3 L604.2,1330.2 L604.7,1328.8 L605.2,1327.3 L605.6,1325.6 L606.2,1323.6 L606.7,1321.4 L607.2,1318.9 L607.4,1318.1 L607.5,1317.3 L607.7,1316.4 L607.9,1315.5 L608,1314.6 L608.2,1313.6 L608.4,1312.6 L608.5,1311.5 L608.7,1310.5 L608.9,1309.4 L609.1,1308.3 L609.2,1307.1 L609.4,1306 L609.6,1304.8 L609.7,1303.6 L609.9,1302.4 L610.1,1301.1 L610.3,1299.9 L610.5,1298.6 L610.6,1297.3 L610.8,1296 L611,1294.7 L611.2,1293.4 L611.3,1292 L611.5,1290.7 L611.7,1289.4 L611.9,1288 L612.1,1286.7 L612.2,1285.3 L612.4,1284 L612.6,1282.6 L612.8,1281.2 L612.9,1279.9 L613.1,1278.6 L613.3,1277.2 L613.5,1275.9 L613.6,1274.6 L613.8,1273.3 L614,1272 L614.1,1270.7 L614.3,1269.4 L614.5,1268.2 L614.6,1266.9 L614.8,1265.7 L615,1264.5 L615.1,1263.4 L615.3,1262.2 L615.5,1260.9 L615.7,1259.6 L615.8,1258.4 L616,1257.1 L616.2,1255.8 L616.4,1254.5 L616.5,1253.3 L616.7,1252 L616.9,1250.7 L617,1249.4 L617.2,1248.2 L617.4,1246.9 L617.5,1245.6 L617.7,1244.4 L617.9,1243.1 L618,1241.8 L618.2,1240.6 L618.4,1239.3 L618.5,1238.1 L618.7,1236.9 L618.9,1235.6 L619,1234.4 L619.2,1233.2 L619.4,1232 L619.5,1230.8 L619.7,1229.6 L619.8,1228.4 L620,1227.2 L620.2,1226 L620.3,1224.9 L620.5,1223.7 L620.7,1222.5 L620.8,1221.4 L621,1220.3 L621.1,1219.1 L621.3,1218 L621.5,1216.9 L621.6,1215.8 L621.8,1214.8 L622,1213.7 L622.1,1212.6 L622.3,1211.6 L622.5,1210.1 L622.8,1208.7 L623,1207.3 L623.2,1205.8 L623.5,1204.4 L623.7,1203 L624,1201.5 L624.2,1200.1 L624.5,1198.8 L624.7,1197.4 L624.9,1196 L625.2,1194.7 L625.4,1193.3 L625.7,1192 L625.9,1190.8 L626.1,1189.5 L626.4,1188.3 L626.6,1187.1 L626.9,1185.9 L627.1,1184.7 L627.3,1183.6 L627.6,1182.5 L627.8,1181.4 L628,1180.4 L628.3,1179.4 L628.5,1178.5 L628.7,1177.6 L629,1176.7 L629.2,1175.9 L629.4,1175.1 L630.1,1172.9 L630.8,1171.2 L631.5,1169.9 L632.2,1169 L632.8,1168.3 L633.5,1167.7 L634.2,1167.2 L634.8,1166.7 L635.5,1166 L636.5,1165.1 L637.4,1164.5 L638.3,1164 L639.3,1163.4 L640.4,1162.5 L641.6,1161 L642.1,1160.2 L642.7,1159.4 L643.2,1158.4 L643.8,1157.3 L644.5,1156.2 L645.1,1155 L645.7,1153.7 L646.4,1152.5 L647.1,1151.2 L647.7,1150 L648.4,1148.8 L649.1,1147.6 L649.7,1146.5 L650.4,1145.5 L651.1,1144.6 L651.7,1143.8 L652.8,1142.7 L653.9,1141.8 L655.1,1141.2 L656.2,1140.7 L657.3,1140.2 L658.4,1139.8 L659.6,1139.3 L660.7,1138.6 L661.8,1137.7 L662.6,1136.9 L663.4,1136.1 L664.2,1135.1 L665,1134.1 L665.9,1133 L666.7,1131.9 L667.5,1130.8 L668.3,1129.7 L669.1,1128.7 L669.8,1127.7 L670.6,1126.9 L671.3,1126.1 L671.9,1125.5 L673.4,1124.5 L674.6,1124 L675.8,1123.9 L676.8,1123.8 L678,1123.5 L679.3,1122.9 L680.5,1122.1 L681.8,1121.4 L683,1120.8 L684.1,1120.5 L685.4,1121.3 L686.5,1122.6 L688.1,1122.5 L688.7,1121.9 L689.4,1121.1 L690.1,1120.1 L690.9,1118.9 L691.7,1117.7 L692.5,1116.4 L693.3,1115.1 L694.1,1113.9 L694.9,1112.9 L695.6,1112 L696.2,1111.4 L697.7,1110.8 L699.1,1111 L700.3,1111.7 L701.3,1112.4 L702.2,1112.7 L702.8,1113.2 L704,1115.3 L704.4,1116 L704.8,1116.9 L705.3,1117.8 L705.8,1118.8 L706.3,1119.9 L706.9,1121.1 L707.4,1122.3 L708,1123.6 L708.6,1124.9 L709.2,1126.2 L709.8,1127.5 L710.4,1128.8 L711,1130 L711.5,1131.3 L712.1,1132.5 L712.6,1133.6 L713.1,1134.7 L713.6,1135.9 L714.1,1137 L714.7,1138.2 L715.2,1139.3 L715.7,1140.5 L716.2,1141.7 L716.7,1142.8 L717.2,1144 L717.7,1145.1 L718.2,1146.3 L718.7,1147.4 L719.2,1148.5 L719.7,1149.6 L720.2,1150.7 L720.7,1151.9 L721.3,1153.2 L721.8,1154.5 L722.3,1155.7 L722.8,1157 L723.3,1158.2 L723.8,1159.5 L724.2,1160.7 L724.7,1161.8 L725.2,1162.9 L725.7,1164 L726.2,1165 L726.8,1166 L727.3,1166.9 L728.2,1168.2 L729.1,1169.5 L730,1170.6 L730.9,1171.7 L731.9,1172.6 L732.8,1173.4 L733.7,1174 L734.6,1174.4 L735.4,1174.6 L736.4,1174.4 L737.3,1173.9 L738.2,1173 L739.1,1171.8 L739.9,1170.6 L740.7,1169.2 L741.5,1167.9 L742.1,1166.9 L742.6,1165.9 L743.1,1164.7 L743.6,1163.6 L744.1,1162.3 L744.6,1161.1 L745.1,1159.9 L745.6,1158.8 L746.1,1157.7 L746.6,1156.8 L747.4,1155.4 L748.1,1154.1 L748.9,1152.9 L749.6,1151.9 L750.5,1151 L751.6,1150.3 L752.7,1150 L753.8,1149.5 L755.1,1149.3 L756.4,1149.8 L757.8,1149.4 L759.2,1149.6 L760.7,1149.6 L761.8,1149.9 L762.9,1150.1 L764.1,1150.1 L765.3,1150 L766.5,1149.9 L767.7,1149.4 L769,1149.8 L770.3,1149.8 L771.6,1150.3 L772.9,1150.3 L774,1150.1 L775.2,1150.5 L776.4,1151.4 L777.6,1151.6 L778.8,1152.2 L780.1,1152 L781.3,1152.3 L782.5,1152.8 L783.7,1153.3 L784.9,1153.4 L786,1154.4 L787,1154.3 L788.4,1154.1 L789.6,1154.2 L790.7,1154.4 L791.7,1154.6 L792.8,1154.8 L794,1154.2 L795.5,1154.9 L797.2,1155.3 L798.1,1155.2 L799.2,1155.4 L800.3,1155.3 L801.5,1155.3 L802.8,1155.3 L804.1,1156.4 L805.4,1157.1 L806.8,1157.1 L808.1,1157.4 L809.4,1157.7 L810.8,1158.2 L812,1158 L813.3,1158.7 L814.4,1158.7 L815.5,1159.2 L816.5,1159.6 L817.4,1160.2 L819.2,1160.6 L820.5,1160.6 L821.5,1161.5 L822.4,1161.7 L823.2,1162.2 L824.2,1163 L825.5,1163.9 L826.4,1163.6 L827.4,1164.1 L828.4,1164.4 L829.4,1165.4 L830.4,1165.6 L831.5,1166.6 L832.6,1167.2 L833.8,1167.5 L835.1,1168.3 L836.4,1169 L837.7,1169.2 L838.6,1169.6 L839.6,1170 L840.7,1171.2 L841.8,1171.7 L842.9,1172.3 L844,1173.3 L845.2,1174.4 L846.4,1174.5 L847.6,1175.5 L848.8,1175.9 L849.9,1177 L851,1177.8 L852.1,1178.5 L853.2,1178.9 L854.1,1179 L855.1,1179.9 L855.9,1179.8 L857.7,1180.8 L859.1,1181.8 L860.4,1181.7 L861.5,1181.9 L862.6,1182.2 L863.7,1182.3 L865,1182 L866.3,1182 L867.7,1182.4 L869.2,1182.3 L870.7,1181.7 L872.1,1181.8 L873.4,1181.9 L874.6,1181.6 L875.6,1181.6 L877.5,1180.3 L878.6,1180.2 L879.3,1180.8 L880.1,1181.7 L880.9,1182.8 L881.7,1183.9 L882.5,1185.1 L883.2,1186 L883.9,1186.9 L884.6,1187.8 L885.3,1188.8 L886,1190 L886.7,1191.4 L887.1,1192.3 L887.5,1193.4 L887.9,1194.4 L888.3,1195.6 L888.8,1196.7 L889.2,1198 L889.6,1199.2 L890,1200.5 L890.5,1201.9 L890.9,1203.2 L891.3,1204.2 L891.6,1205.3 L892,1206.3 L892.4,1207.3 L892.8,1208.4 L893.2,1209.5 L893.5,1210.6 L893.9,1211.7 L894.3,1213 L894.7,1214.2 L895.1,1215.6 L895.4,1217 L895.8,1218.5 L896,1219.5 L896.2,1220.5 L896.4,1221.5 L896.7,1222.6 L896.9,1223.7 L897.1,1224.9 L897.3,1226 L897.5,1227.2 L897.7,1228.4 L897.9,1229.6 L898.1,1230.9 L898.3,1232.1 L898.5,1233.4 L898.7,1234.7 L898.9,1235.9 L899.1,1237.2 L899.3,1238.5 L899.4,1239.8 L899.6,1241.1 L899.8,1242.3 L900,1243.6 L900.2,1244.8 L900.3,1245.9 L900.5,1247.1 L900.6,1248.3 L900.8,1249.4 L900.9,1250.6 L901.1,1251.8 L901.2,1253 L901.4,1254.2 L901.5,1255.4 L901.6,1256.6 L901.8,1257.8 L901.9,1259 L902,1260.2 L902.2,1261.5 L902.3,1262.7 L902.5,1264 L902.6,1265.2 L902.8,1266.4 L902.9,1267.7 L903.1,1269 L903.2,1270.2 L903.4,1271.5 L903.6,1272.7 L903.7,1273.9 L903.9,1275.1 L904,1276.3 L904.2,1277.5 L904.4,1278.8 L904.5,1280 L904.7,1281.3 L904.9,1282.5 L905.1,1283.8 L905.2,1285 L905.4,1286.3 L905.6,1287.6 L905.8,1288.8 L905.9,1290.1 L906.1,1291.3 L906.3,1292.6 L906.5,1293.8 L906.6,1295.1 L906.8,1296.3 L907,1297.5 L907.1,1298.7 L907.3,1299.9 L907.4,1301 L907.6,1302.2 L907.8,1303.5 L907.9,1304.8 L908.1,1306.1 L908.3,1307.3 L908.4,1308.6 L908.6,1309.8 L908.7,1311.1 L908.9,1312.3 L909,1313.5 L909.2,1314.7 L909.3,1315.9 L909.5,1317.1 L909.6,1318.3 L909.8,1319.5 L909.9,1320.7 L910.1,1321.8 L910.2,1323 L910.4,1324.1 L910.6,1325.2 L910.7,1326.4 L910.9,1327.5 L911.1,1328.6 L911.3,1329.9 L911.6,1331.2 L911.8,1332.4 L912.1,1333.7 L912.3,1335 L912.6,1336.2 L912.9,1337.5 L913.2,1338.7 L913.5,1339.9 L913.7,1341.1 L914,1342.3 L914.3,1343.5 L914.6,1344.6 L914.8,1345.7 L915.1,1346.8 L915.3,1347.9 L915.6,1348.9 L915.8,1349.9 L916,1350.9 L916.3,1352.5 L916.6,1354.1 L916.9,1355.6 L917.1,1357 L917.3,1358.3 L917.6,1359.6 L917.8,1360.8 L918,1362 L918.2,1363 L918.5,1364 L918.8,1364.9 L919.6,1366.5 L920.4,1367.6 L921.3,1368.4 L922.1,1369.1 L923,1369.8 L924,1370.7 L925.1,1371.5 L926.1,1372.1 L927.1,1372.5 L928.6,1372.4 L930.1,1372 L931.3,1371.6 L933.4,1371.8 L933.7,1371 L933.9,1370 L934.2,1368.7 L934.5,1367.3 L934.8,1365.9 L935.1,1364.4 L935.4,1363 L935.8,1361.8 L936.2,1360.7 L936.9,1359.5 L937.7,1358.6 L938.5,1357.9 L939.4,1357.1 L940.3,1356.2 L941.1,1355.1 L941.7,1354.1 L942.3,1352.9 L942.9,1351.6 L943.5,1350.2 L944.2,1348.9 L944.7,1347.6 L945.2,1346.4 L945.7,1345.4 L946,1344.7" fill="none" stroke="#ff0000" stroke-width="1.15" stroke-linejoin="round"/>
<path d="M83.8,842.6 L85.2,842.9 L87,843.3 L88.5,844 L90.1,843.5 L91.3,842.7 L92.7,841.7 L94,841 L95.3,841 L96.6,840.3 L97.7,840.5 L98.9,840.9 L100,841.6 L100.8,841.8 L102.8,842.1 L103.6,842.1 L104.6,841.6 L105.7,841.7 L106.8,841.6 L108.1,842.3 L109.4,842.6 L110.8,842.8 L112.2,842.9 L113.6,842.9 L115,843.2 L116.1,843.1 L117.1,842.5 L118.2,842.9 L119.3,842.6 L120.4,842.8 L121.6,842.6 L122.7,842.4 L123.9,842.3 L125.2,842.2 L126.4,842.1 L127.8,841.9 L129.2,842.5 L130.6,842.7 L131.6,843.1 L132.7,843 L133.7,842.8 L134.8,843 L136,842.5 L137.1,842.9 L138.3,842.8 L139.4,842.6 L140.6,842.6 L141.8,842.9 L143.1,842.9 L144.3,843.1 L145.6,843.4 L146.9,843.3 L148.1,843.1 L149.4,843.3 L150.8,843.2 L152.1,843.2 L153.4,843.1 L154.5,843.2 L155.6,843 L156.7,843.4 L157.9,843.9 L159,843.5 L160.2,843.7 L161.3,843.9 L162.5,843.1 L163.7,842.8 L164.9,843.2 L166.1,843.4 L167.3,843.3 L168.5,842.7 L169.7,842.7 L171,843.1 L172.2,843.2 L173.5,843.2 L174.7,842.5 L176,842.9 L177.3,842.5 L178.6,842.7 L179.9,842.2 L181.2,842.8 L182.3,842.7 L183.5,842.7 L184.8,842.2 L186,842.4 L187.3,842.5 L188.7,842.5 L190,842.3 L191.4,842.6 L192.7,842.3 L194.1,842.2 L195.5,842 L196.9,842.4 L198.2,842 L199.6,842 L200.9,841.8 L202.3,842.4 L203.6,842.5 L204.8,842.6 L206.1,842.2 L207.2,842.4 L208.4,842.4 L209.5,842.2 L210.5,842.1 L211.5,843 L212.5,842.6 L213.3,842.7 L214.1,842.7 L216.5,843.4 L218.1,843.4 L219.1,844.1 L219.8,844.7 L220.3,845.8 L220.8,845.8 L221.7,846.6 L222.7,847.5 L223.7,848.9 L224.7,849.6 L225.7,850.4 L226.7,851.5 L227.7,852 L228.5,852.3 L229.3,853.1 L230.8,854.2 L231.8,854.1 L233.1,853.2 L234.2,853 L235.4,852.6 L236.7,851.5 L238,850.9 L239.4,850.1 L240.6,849.5 L241.7,849 L243,848.4 L244.2,848.2 L245.6,847.7 L247,847.8 L248.1,847.6 L249.1,848.3 L250.2,848.5 L251.3,848.2 L252.5,849 L253.8,849 L255.3,849.5 L257.1,850.2 L258,850.3 L259.1,850.6 L260.2,851.1 L261.3,851.3 L262.6,852.4 L263.8,852.4 L265.1,853.4 L266.4,853.6 L267.8,854 L269.1,854.5 L270.4,854.7 L271.7,855.1 L272.9,855.7 L274.1,856.2 L275.3,857 L276.4,857.6 L277.4,856.9 L278.9,857.1 L280.3,856.7 L281.6,857 L282.7,856.4 L283.9,856.4 L285,855.7 L286.1,854.7 L287.3,853.8 L288.6,853.3 L290,853.4 L291,852.6 L292.1,852.4 L293.3,851.9 L294.5,851.4 L295.7,851.4 L297,850.5 L298.2,850.3 L299.5,849.9 L300.8,849.8 L302,849 L303.2,848.8 L304.4,848.1 L305.6,847.7 L306.7,847.4 L307.7,847.3 L309.1,847.1 L310.5,846.2 L311.7,845.7 L312.9,845.8 L314,846.1 L315.2,845.9 L316.3,845.6 L317.5,846.1 L318.7,845.6 L320,845.1 L321.1,844.8 L322.2,844.5 L323.3,845 L324.3,844.5 L325.4,844.8 L326.6,845.1 L327.7,845.2 L328.9,845.1 L330.2,844.6 L331.6,844.5 L333,844.7 L334.6,844.7 L335.6,844.3 L336.6,844.6 L337.7,844.2 L338.8,844.2 L339.9,844.9 L341.1,844.8 L342.3,844.6 L343.5,845.1 L344.7,845 L346,844.6 L347.3,844.6 L348.5,844.8 L349.8,845.1 L351.1,845.8 L352.4,845.6 L353.7,846.1 L355,846.4 L356.3,846.2 L357.6,846.7 L358.9,846.7 L360.1,846.5 L361.3,846.2 L362.5,846.3 L363.7,846.8 L365,846.7 L366.3,846.4 L367.6,846.5 L368.8,846.6 L370.1,846.5 L371.4,846.8 L372.7,846.5 L374,847.1 L375.3,846.8 L376.5,846.6 L377.7,847 L379,846.9 L380.1,847.5 L381.3,847.3 L382.4,847.3 L383.5,847.6 L384.6,847.1 L385.6,847.4 L387.1,847.4 L388.4,847.1 L389.6,847.4 L390.7,846.5 L391.7,846.8 L392.7,846.1 L393.6,846.3 L394.6,845.7 L395.7,845.2 L396.8,845.3 L398,845.6 L399.4,845.1 L400.9,845 L402.6,845.1 L403.5,844.8 L404.5,844.9 L405.6,844.4 L406.7,844.6 L407.8,845 L409,844.8 L410.2,844.6 L411.5,844.3 L412.8,844.8 L414.1,844.8 L415.4,845.3 L416.7,845.3 L418.1,844.7 L419.4,845.3 L420.8,845.6 L422.2,845.6 L423.5,845.6 L424.8,845.5 L426.2,845.6 L427.5,845.5 L428.7,845.5 L430,845.2 L431.2,844.9 L432.4,845.4 L433.5,845.6 L434.6,845.2 L435.6,845.6 L436.6,845.8 L438.2,845.9 L439.8,846.3 L441.2,846.7 L442.6,846.5 L444,847 L445.3,847.1 L446.5,847.3 L447.7,847.4 L448.8,848.1 L449.9,848.1 L451,848.7 L452,848.6 L453,849 L454,849.6 L455,849.7 L456,849.7 L457.5,849.6 L458.9,850.2 L460.3,850.6 L461.5,851.2 L462.7,851.6 L463.8,852 L465,852.3 L466,852.8 L467.1,853.3 L468.2,854 L469.2,854.7 L470.1,855.3 L471.1,856.1 L472,856.8 L472.9,857.6 L473.8,858.5 L474.7,859.4 L475.5,860.4 L476.3,861.4 L477.1,862.5 L477.9,863.7 L478.5,864.6 L479,865.5 L479.5,866.4 L480,867.4 L480.5,868.4 L481,869.4 L481.5,870.4 L481.9,871.5 L482.4,872.7 L482.9,873.9 L483.3,875.1 L483.8,876.4 L484.2,877.8 L484.7,879.2 L485.2,880.7 L485.5,881.7 L485.8,882.7 L486.1,883.7 L486.4,884.8 L486.7,886 L487,887.1 L487.2,888.3 L487.5,889.6 L487.8,890.8 L488.1,892.1 L488.4,893.4 L488.7,894.7 L489,895.9 L489.3,897.2 L489.6,898.5 L489.9,899.8 L490.2,901 L490.5,902.3 L490.8,903.5 L491,904.6 L491.3,905.8 L491.6,906.9 L491.9,907.9 L492.2,908.9 L492.5,909.9 L493,911.4 L493.4,912.8 L493.9,914 L494.3,915.2 L494.7,916.4 L495.1,917.5 L495.6,918.5 L496,919.5 L496.5,920.5 L496.9,921.5 L497.4,922.5 L497.9,923.5 L498.5,924.6 L499.1,925.7 L499.7,926.9 L500.2,927.9 L500.8,928.8 L501.3,929.8 L501.9,930.8 L502.5,931.8 L503.1,932.8 L503.7,933.9 L504.4,934.9 L505,935.9 L505.7,937 L506.3,938 L507,939 L507.7,940.1 L508.4,941.1 L509.1,942.2 L509.8,943.2 L510.5,944.2 L511.2,945.3 L511.9,946.3 L512.6,947.3 L513.3,948.2 L514,949.2 L514.7,950.2 L515.4,951.1 L516.1,952.1 L516.8,953.1 L517.6,954.1 L518.3,955 L519.1,956 L519.8,957 L520.6,957.9 L521.3,958.9 L522.1,959.9 L522.8,960.8 L523.5,961.8 L524.3,962.8 L525,963.8 L525.8,964.7 L526.5,965.7 L527.2,966.7 L528,967.7 L528.7,968.7 L529.5,969.7 L530.2,970.7 L531,971.7 L531.8,972.7 L532.5,973.7 L533.3,974.7 L534.1,975.8 L534.8,976.8 L535.6,977.8 L536.3,978.7 L537,979.7 L537.7,980.7 L538.4,981.6 L539.1,982.5 L539.7,983.5 L540.4,984.3 L541,985.2 L541.8,986.4 L542.7,987.6 L543.5,988.7 L544.2,989.8 L544.9,990.9 L545.7,991.9 L546.3,992.9 L547,994 L547.7,994.9 L548.3,995.9 L548.9,996.9 L549.5,997.8 L550.1,998.8 L550.7,999.7 L551.4,1000.8 L552.1,1001.7 L552.8,1002.5 L553.4,1003.3 L554,1004 L554.5,1004.8 L555.1,1005.7 L555.7,1006.7 L556.2,1008 L556.8,1009.4 L557.3,1011.2 L557.5,1012 L557.8,1012.9 L558,1013.8 L558.2,1014.8 L558.4,1015.7 L558.6,1016.8 L558.9,1017.8 L559.1,1018.9 L559.3,1020 L559.5,1021.1 L559.7,1022.3 L559.9,1023.5 L560.1,1024.7 L560.3,1025.9 L560.5,1027.2 L560.7,1028.5 L560.9,1029.8 L561.2,1031.1 L561.4,1032.4 L561.6,1033.8 L561.8,1035.2 L562,1036.5 L562.2,1037.9 L562.4,1039.3 L562.6,1040.8 L562.8,1042.2 L563,1043.3 L563.1,1044.3 L563.2,1045.4 L563.4,1046.6 L563.5,1047.7 L563.7,1048.9 L563.8,1050.1 L564,1051.3 L564.1,1052.5 L564.3,1053.7 L564.4,1055 L564.5,1056.2 L564.7,1057.5 L564.8,1058.8 L565,1060.1 L565.1,1061.3 L565.2,1062.6 L565.4,1063.9 L565.5,1065.2 L565.7,1066.5 L565.8,1067.8 L566,1069.1 L566.1,1070.4 L566.3,1071.7 L566.4,1072.9 L566.6,1074.2 L566.7,1075.4 L566.9,1076.7 L567,1077.9 L567.2,1079.1 L567.4,1080.3 L567.5,1081.5 L567.7,1082.6 L567.9,1083.7 L568,1084.8 L568.2,1085.9 L568.4,1087.3 L568.7,1088.6 L568.9,1090 L569.1,1091.3 L569.4,1092.6 L569.6,1093.9 L569.8,1095.2 L570.1,1096.5 L570.3,1097.8 L570.6,1099 L570.8,1100.3 L571.1,1101.5 L571.4,1102.7 L571.6,1103.9 L571.9,1105.1 L572.1,1106.2 L572.4,1107.4 L572.7,1108.5 L573,1109.6 L573.2,1110.7 L573.5,1111.8 L573.8,1112.8 L574.1,1113.9 L574.3,1114.9 L574.6,1115.9 L574.9,1116.8 L575.2,1117.8 L575.5,1118.7 L576,1120.3 L576.6,1121.8 L577.1,1123.2 L577.7,1124.6 L578.3,1125.9 L578.9,1127.1 L579.5,1128.3 L580,1129.5 L580.6,1130.5 L581.2,1131.6 L581.8,1132.6 L582.4,1133.5 L583,1134.4 L583.5,1135.3 L584.1,1136.1 L584.6,1136.9 L585.6,1138.4 L586.6,1139.6 L587.5,1140.7 L588.4,1141.6 L589.3,1142.4 L590.2,1142.9 L591,1143.2 L591.9,1143.3 L592.9,1143.3 L593.8,1143.1 L594.7,1142.7 L595.6,1142 L596.5,1140.9 L597.4,1139.2 L598.3,1136.9 L598.5,1136.2 L598.8,1135.4 L599,1134.5 L599.3,1133.6 L599.5,1132.7 L599.8,1131.7 L600,1130.7 L600.3,1129.7 L600.6,1128.6 L600.8,1127.4 L601.1,1126.3 L601.3,1125.1 L601.6,1123.8 L601.8,1122.6 L602.1,1121.3 L602.3,1120 L602.6,1118.7 L602.8,1117.3 L603,1115.9 L603.3,1114.5 L603.5,1113.1 L603.8,1111.7 L604,1110.3 L604.2,1108.8 L604.5,1107.4 L604.7,1105.9 L604.9,1104.9 L605,1103.9 L605.2,1102.8 L605.3,1101.8 L605.5,1100.8 L605.6,1099.7 L605.8,1098.7 L605.9,1097.6 L606,1096.5 L606.2,1095.4 L606.3,1094.3 L606.5,1093.2 L606.6,1092.1 L606.8,1091 L606.9,1089.9 L607,1088.7 L607.2,1087.5 L607.3,1086.4 L607.5,1085.2 L607.6,1084 L607.7,1082.8 L607.9,1081.6 L608,1080.4 L608.1,1079.1 L608.3,1077.9 L608.4,1076.6 L608.6,1075.3 L608.7,1074.1 L608.8,1072.7 L609,1071.4 L609.1,1070.1 L609.3,1068.8 L609.4,1067.4 L609.5,1066 L609.7,1064.6 L609.8,1063.2 L610,1061.8 L610.1,1060.4 L610.2,1059.4 L610.3,1058.3 L610.4,1057.2 L610.5,1056.1 L610.6,1055 L610.7,1053.9 L610.8,1052.7 L610.9,1051.6 L611,1050.4 L611.1,1049.2 L611.2,1048 L611.3,1046.8 L611.4,1045.6 L611.5,1044.4 L611.6,1043.1 L611.8,1041.9 L611.9,1040.7 L612,1039.4 L612.1,1038.1 L612.2,1036.9 L612.3,1035.6 L612.4,1034.3 L612.5,1033 L612.6,1031.7 L612.7,1030.4 L612.8,1029.1 L612.9,1027.9 L613,1026.6 L613.1,1025.3 L613.2,1024 L613.3,1022.7 L613.4,1021.4 L613.5,1020.1 L613.6,1018.9 L613.7,1017.6 L613.8,1016.3 L613.9,1015.1 L614,1013.9 L614.1,1012.6 L614.2,1011.4 L614.4,1010.2 L614.5,1009 L614.6,1007.8 L614.7,1006.6 L614.8,1005.4 L614.9,1004.3 L615,1003.1 L615.1,1002 L615.2,1000.9 L615.3,999.8 L615.4,998.7 L615.5,997.6 L615.6,996.6 L615.7,995.2 L615.9,993.7 L616,992.3 L616.2,990.9 L616.3,989.5 L616.5,988.1 L616.6,986.8 L616.8,985.4 L616.9,984.1 L617.1,982.7 L617.2,981.4 L617.4,980.1 L617.6,978.8 L617.7,977.5 L617.9,976.2 L618,974.9 L618.2,973.7 L618.3,972.5 L618.5,971.2 L618.6,970 L618.8,968.8 L618.9,967.7 L619.1,966.5 L619.2,965.3 L619.4,964.2 L619.5,963.1 L619.6,962 L619.8,960.9 L619.9,959.9 L620.1,958.8 L620.2,957.8 L620.3,956.8 L620.5,955.8 L620.6,954.8 L620.7,953.8 L620.9,952.9 L621,952 L621.1,951.1 L621.3,949.3 L621.6,947.5 L621.8,945.9 L622,944.3 L622.2,942.8 L622.4,941.4 L622.6,940.1 L622.8,938.8 L623,937.6 L623.2,936.5 L623.4,935.4 L623.5,934.4 L623.7,933.4 L623.9,932.5 L624.1,931.6 L624.3,930.8 L624.5,930 L624.7,929.2 L625.5,927 L626.2,925.6 L627,924.8 L627.8,924.4 L628.7,924.3 L629.6,924.7 L630.6,925.6 L631.7,926.8 L632.7,928 L633.8,928.9 L635.1,929.8 L636.5,930.5 L637.9,931 L639.3,931.1 L640.3,930.9 L641.3,930.5 L642.3,929.8 L643.4,928.8 L644.7,927.4 L645.3,926.7 L645.9,925.9 L646.5,925.1 L647.2,924.2 L647.9,923.2 L648.6,922.1 L649.4,921.1 L650.1,920 L650.9,918.9 L651.6,917.8 L652.4,916.7 L653.1,915.7 L653.8,914.7 L654.5,913.7 L655.2,912.7 L655.9,911.7 L656.6,910.6 L657.3,909.6 L658,908.6 L658.8,907.6 L659.5,906.6 L660.2,905.6 L660.9,904.6 L661.6,903.7 L662.3,902.8 L663,901.9 L663.9,900.8 L664.9,899.8 L665.9,898.7 L666.8,897.7 L667.8,896.8 L668.7,895.9 L669.6,895 L670.5,894.2 L671.3,893.5 L672.1,892.8 L673.4,891.8 L674.4,891.1 L675.4,890.6 L676.4,890 L677.5,889.1 L678.3,888.4 L679.2,887.5 L680.1,886.5 L681,885.5 L682,884.5 L682.9,883.6 L683.9,882.8 L684.8,882.2 L686,881.6 L687.2,881 L688.3,880.7 L689.5,880.5 L690.8,880.4 L692.1,880.6 L693.2,880.8 L694.3,881.1 L695.5,881.5 L696.6,882 L697.8,882.7 L699,883.4 L700.1,884.4 L701.2,885.5 L701.8,886.3 L702.4,887.1 L703,888.1 L703.5,889 L704.1,890.1 L704.6,891.2 L705.1,892.3 L705.6,893.5 L706.2,894.8 L706.7,896 L707.3,897.4 L707.9,898.7 L708.5,900.1 L708.9,901.1 L709.4,902.1 L709.8,903.2 L710.3,904.3 L710.8,905.5 L711.3,906.6 L711.8,907.8 L712.3,909 L712.8,910.3 L713.3,911.5 L713.8,912.7 L714.3,914 L714.8,915.2 L715.2,916.4 L715.7,917.5 L716.2,918.7 L716.7,919.8 L717.1,920.9 L717.6,921.9 L718.2,923.2 L718.7,924.4 L719.3,925.7 L719.9,926.9 L720.4,928.1 L721,929.3 L721.5,930.5 L722,931.6 L722.6,932.7 L723.1,933.7 L723.6,934.7 L724.1,935.7 L724.6,936.6 L725,937.5 L725.5,938.3 L726.4,939.9 L727.2,941.4 L727.9,942.6 L728.6,943.7 L729.3,944.5 L730.1,945 L730.9,945.2 L731.7,945.1 L732.6,944.6 L733.6,944 L734.5,943.1 L735.5,942.1 L736.5,940.9 L737.4,939.6 L738.2,938.3 L738.7,937.4 L739.1,936.4 L739.6,935.4 L740,934.2 L740.4,933.1 L740.8,931.8 L741.2,930.6 L741.6,929.4 L742,928.1 L742.4,926.9 L742.8,925.8 L743.3,924.7 L743.7,923.7 L744.3,922.4 L744.9,921.1 L745.6,919.9 L746.2,918.6 L746.9,917.4 L747.6,916.3 L748.2,915.3 L748.9,914.4 L749.5,913.7 L750.1,913.2 L751.5,912.9 L752.7,913.6 L754,914.7 L755.5,915.2 L756.5,915.2 L757.7,914.6 L758.9,913.9 L760.1,913.7 L761.3,913.3 L762.6,913.1 L763.7,913.2 L764.9,912.8 L766.1,912.6 L767.3,913 L768.5,913.4 L769.7,913.4 L771,913.4 L772.2,913.7 L773.5,913.9 L774.8,913.2 L776.1,913.8 L777.4,913.2 L778.8,913.5 L780.1,913.7 L781.4,914.4 L782.8,914.1 L784.1,914 L785.4,915 L786.7,915.1 L788,915.3 L789.2,915.4 L790.5,915.4 L791.8,915.2 L793.1,915.6 L794.3,915.5 L795.4,915.8 L796.5,916.5 L797.9,917.1 L799,916.9 L800.3,917.1 L802,917.3 L803,917.9 L804.1,917.8 L805.3,917.9 L806.6,918.9 L807.9,919.2 L809.2,919.8 L810.5,919.6 L811.7,919.7 L812.9,920.3 L814.1,921 L815.3,921.1 L816.5,921.8 L817.7,922.5 L818.8,923.1 L819.9,923.5 L821,924 L822,924.2 L823.2,924.4 L824.3,924.6 L825.3,925.5 L826.4,925.6 L827.7,926.3 L829.3,926.6 L830.1,927.6 L831,927.5 L832,928.6 L833,929.1 L834.1,930.1 L835.2,930.8 L836.4,930.7 L837.5,931.1 L838.7,931.8 L839.8,932.3 L840.9,933.7 L841.9,934 L843,935 L843.9,936.1 L845.1,936.8 L846.2,937.9 L847.3,938.6 L848.4,939.2 L849.5,940.5 L850.5,940.8 L851.5,941.7 L852.4,942.4 L853.3,943.1 L854.1,943.5 L854.8,944.5 L856.5,945 L857.4,944.1 L858.5,943.6 L859.4,944.5 L860.4,945.5 L861.5,945.6 L862.7,946.9 L863.9,946.8 L865,946.5 L866.2,946.3 L867.4,946.1 L868.6,945.9 L869.9,946.1 L871.2,945.4 L872.6,945.6 L874.1,945.6 L875.6,945.3 L877,946.1 L878.3,946.4 L879.4,946.5 L880.5,947.6 L881.3,948.8 L881.9,950.2 L882.6,951.5 L883.3,952.4 L884.1,953 L884.9,953.8 L885.6,954.9 L886.4,956.6 L886.7,957.4 L887,958.3 L887.3,959.3 L887.5,960.3 L887.8,961.5 L888.1,962.6 L888.4,963.8 L888.6,965.1 L888.9,966.4 L889.2,967.7 L889.5,969.1 L889.9,970.5 L890.2,971.9 L890.5,972.9 L890.7,974 L891,975.1 L891.3,976.2 L891.6,977.4 L891.8,978.5 L892.1,979.7 L892.4,980.9 L892.7,982.1 L893,983.3 L893.3,984.6 L893.6,985.8 L893.9,987.1 L894.2,988.4 L894.5,989.7 L894.8,991 L895,992.3 L895.3,993.6 L895.5,994.7 L895.7,995.9 L895.9,997 L896.1,998.2 L896.3,999.3 L896.5,1000.5 L896.7,1001.7 L896.9,1002.9 L897.1,1004.1 L897.2,1005.3 L897.4,1006.5 L897.6,1007.8 L897.8,1009 L898,1010.2 L898.1,1011.5 L898.3,1012.8 L898.5,1014 L898.7,1015.3 L898.8,1016.6 L899,1017.9 L899.2,1019.2 L899.4,1020.4 L899.5,1021.5 L899.7,1022.7 L899.8,1023.9 L900,1025 L900.2,1026.2 L900.3,1027.4 L900.5,1028.6 L900.6,1029.8 L900.8,1031.1 L900.9,1032.3 L901.1,1033.5 L901.3,1034.7 L901.4,1036 L901.6,1037.2 L901.7,1038.5 L901.9,1039.7 L902.1,1041 L902.2,1042.2 L902.4,1043.5 L902.5,1044.8 L902.7,1046.1 L902.8,1047.3 L903,1048.6 L903.1,1049.8 L903.3,1051 L903.4,1052.2 L903.6,1053.4 L903.7,1054.6 L903.9,1055.8 L904,1057 L904.2,1058.2 L904.3,1059.5 L904.5,1060.7 L904.6,1061.9 L904.7,1063.2 L904.9,1064.4 L905,1065.6 L905.2,1066.9 L905.3,1068.1 L905.5,1069.4 L905.6,1070.6 L905.8,1071.8 L905.9,1073.1 L906.1,1074.3 L906.2,1075.6 L906.4,1076.8 L906.5,1078 L906.7,1079.3 L906.8,1080.5 L906.9,1081.7 L907.1,1083 L907.2,1084.3 L907.4,1085.6 L907.5,1086.9 L907.7,1088.2 L907.8,1089.5 L908,1090.8 L908.1,1092.1 L908.2,1093.5 L908.4,1094.8 L908.5,1096.1 L908.7,1097.4 L908.8,1098.7 L909,1100 L909.1,1101.2 L909.3,1102.5 L909.4,1103.7 L909.6,1104.9 L909.7,1106.1 L909.9,1107.2 L910,1108.3 L910.2,1109.4 L910.4,1110.4 L910.5,1111.4 L910.7,1112.4 L911,1114.1 L911.4,1115.6 L911.7,1117.1 L912.1,1118.5 L912.4,1119.8 L912.8,1121 L913.2,1122.1 L913.6,1123.2 L913.9,1124.3 L914.3,1125.3 L914.7,1126.2 L915.1,1127.2 L915.4,1128.1 L915.8,1129 L916.5,1130.6 L917.1,1132 L917.8,1133.4 L918.5,1134.6 L919.1,1135.7 L919.8,1136.7 L920.4,1137.4 L920.9,1138 L922.6,1138.7 L924.1,1136.7 L924.4,1136 L924.7,1135.1 L925.1,1134 L925.4,1132.8 L925.7,1131.6 L926.1,1130.3 L926.4,1128.9 L926.8,1127.6 L927.2,1126.3 L927.5,1125.1 L927.9,1123.9 L928.3,1122.7 L928.8,1121.6 L929.2,1120.5 L929.7,1119.4 L930.1,1118.3 L930.6,1117.2 L931.1,1116.1 L931.5,1114.9 L932,1113.7 L932.4,1112.4 L932.7,1111.4 L933,1110.3 L933.3,1109.2 L933.6,1108 L933.9,1106.9 L934.2,1105.7 L934.5,1104.5 L934.8,1103.3 L935.1,1102 L935.3,1100.8 L935.6,1099.6 L935.9,1098.3 L936.2,1097.1 L936.5,1095.9 L936.7,1094.8 L937,1093.6 L937.2,1092.4 L937.5,1091.2 L937.7,1090 L937.9,1088.8 L938.2,1087.5 L938.5,1086.3 L938.7,1085.1 L939,1084 L939.3,1082.8 L939.6,1081.6 L940,1080.5 L940.4,1079.3 L940.9,1078 L941.4,1076.7 L942,1075.4 L942.6,1074 L943.1,1072.7 L943.7,1071.5 L944.3,1070.3 L944.8,1069.2 L945.3,1068.1 L945.7,1067.2 L946.1,1066.4 L946.4,1065.8" fill="none" stroke="#0000ff" stroke-width="1.15" stroke-linejoin="round"/>
<path d="M83.8,598 L84.7,598 L85.9,598 L87.3,598.1 L88.7,597.6 L90,597.3 L91.3,597.4 L92.4,597.3 L93.6,596.8 L95.2,596.9 L96.2,596.8 L97.3,597.2 L98.4,596.8 L99.6,596.8 L100.9,597.6 L102.2,597.5 L103.6,597.4 L105,598 L106.2,598.1 L107.3,597.6 L108.5,597.9 L109.8,598.1 L111,597.7 L112.4,598 L113.7,597.6 L115.1,597.7 L116.5,597.5 L118,597.6 L119.1,598.4 L120.2,598.2 L121.4,598.7 L122.5,598.4 L123.7,598.5 L124.9,598.8 L126.2,598.8 L127.4,598.2 L128.7,598.5 L129.9,598.7 L131.2,598.3 L132.5,598.1 L133.7,598.9 L135,598.9 L136.2,598.6 L137.5,598.8 L138.8,598.7 L140.2,599.3 L141.6,599.4 L143,599 L144.4,599.7 L145.8,599.3 L147.1,599.4 L148.4,599.2 L149.6,599.9 L150.7,599.6 L151.7,599.9 L152.6,599.6 L153.4,599.9 L154.2,599.5 L155.9,598.7 L156.6,598.6 L157.4,598.5 L158.3,598.4 L159.3,598.6 L160.3,598.1 L161.5,598.3 L162.6,598.1 L163.9,598.7 L165.1,599 L166.5,598.3 L167.8,598 L169.2,598.5 L170.5,598.6 L171.9,598 L173.3,598.5 L174.7,599 L176,598.7 L177.4,598.5 L178.7,598.6 L180,599 L181.2,598.6 L182.4,598.4 L183.7,598.2 L185,598.6 L186.3,598.6 L187.7,598.4 L189,598.5 L190.4,598.1 L191.7,598.3 L193.1,599 L194.4,599 L195.8,598.7 L197.1,599.2 L198.3,598.9 L199.6,598.7 L200.7,598.4 L201.9,598.4 L202.9,598.5 L203.9,598.6 L204.9,599.3 L205.7,599.1 L206.5,599.1 L209.2,599.7 L210.3,600.1 L210.8,600.8 L211.6,601.9 L212.2,602.6 L212.9,603.3 L213.5,604.1 L214.2,605 L214.8,606.1 L215.4,607.4 L216,608.9 L216.6,610.7 L216.8,611.5 L217.1,612.4 L217.3,613.3 L217.5,614.2 L217.7,615.2 L217.9,616.2 L218.1,617.2 L218.3,618.3 L218.5,619.4 L218.7,620.5 L218.9,621.8 L219.1,623 L219.2,624.3 L219.4,625.7 L219.6,627.1 L219.8,628.6 L220,630.2 L220.2,631.8 L220.4,633.5 L220.5,634.5 L220.6,635.4 L220.7,636.4 L220.8,637.5 L220.9,638.5 L221.1,639.6 L221.2,640.7 L221.3,641.8 L221.4,642.9 L221.5,644.1 L221.6,645.3 L221.7,646.5 L221.8,647.7 L221.9,648.9 L222,650.1 L222.1,651.4 L222.2,652.6 L222.4,653.9 L222.5,655.2 L222.6,656.5 L222.7,657.8 L222.8,659.1 L222.9,660.4 L223,661.7 L223.1,663.1 L223.2,664.4 L223.3,665.7 L223.4,667.1 L223.5,668.4 L223.7,669.8 L223.8,671.1 L223.9,672.5 L224,673.8 L224.1,675.2 L224.2,676.5 L224.3,677.6 L224.4,678.8 L224.5,679.9 L224.6,681.1 L224.7,682.3 L224.7,683.6 L224.8,684.8 L224.9,686.1 L225,687.3 L225.1,688.6 L225.2,689.9 L225.3,691.2 L225.4,692.5 L225.5,693.8 L225.6,695.1 L225.6,696.4 L225.7,697.7 L225.8,699 L225.9,700.4 L226,701.7 L226.1,703 L226.2,704.3 L226.3,705.6 L226.4,706.9 L226.5,708.1 L226.6,709.4 L226.6,710.7 L226.7,711.9 L226.8,713.1 L226.9,714.4 L227,715.5 L227.1,716.7 L227.2,717.9 L227.3,719 L227.4,720.1 L227.5,721.2 L227.5,722.3 L227.6,723.3 L227.7,724.3 L227.8,725.3 L227.9,726.2 L228,727.1 L228.2,728.9 L228.4,730.7 L228.6,732.5 L228.8,734.2 L229,735.8 L229.2,737.4 L229.4,738.9 L229.6,740.4 L229.8,741.7 L230,743 L230.2,744.2 L230.4,745.4 L230.6,746.4 L230.7,747.4 L230.9,748.3 L231.1,749.1 L231.3,749.8 L231.5,750.3 L231.6,750.8 L231.8,751.2 L232.1,751.7 L232.4,751.7 L232.7,751.2 L233,750.3 L233.2,749 L233.5,747.3 L233.8,745.1 L234.1,742.6 L234.4,739.8 L234.5,739 L234.6,738.1 L234.7,737.3 L234.8,736.3 L234.9,735.3 L235,734.3 L235,733.3 L235.1,732.2 L235.2,731 L235.3,729.9 L235.4,728.7 L235.5,727.5 L235.6,726.3 L235.7,725 L235.8,723.7 L235.9,722.4 L236,721.1 L236.1,719.8 L236.3,718.4 L236.4,717.1 L236.5,715.7 L236.6,714.3 L236.7,713 L236.8,711.6 L236.9,710.2 L237,708.8 L237.1,707.4 L237.3,706.1 L237.4,704.7 L237.5,703.4 L237.6,702 L237.7,700.7 L237.9,699.4 L238,698.1 L238.1,696.8 L238.2,695.6 L238.3,694.4 L238.5,693.2 L238.6,692 L238.7,690.8 L238.8,689.5 L239,688.2 L239.1,687 L239.2,685.7 L239.3,684.4 L239.5,683.1 L239.6,681.8 L239.7,680.5 L239.9,679.2 L240,677.9 L240.1,676.6 L240.3,675.3 L240.4,674 L240.6,672.7 L240.7,671.5 L240.8,670.2 L241,668.9 L241.1,667.7 L241.3,666.4 L241.4,665.2 L241.5,664 L241.7,662.8 L241.8,661.6 L242,660.5 L242.1,659.3 L242.2,658.2 L242.4,657.2 L242.5,656.1 L242.7,655.1 L242.8,654 L242.9,653.1 L243.1,652.1 L243.2,651.2 L243.5,649.4 L243.7,647.8 L243.9,646.2 L244.1,644.6 L244.4,643.2 L244.6,641.8 L244.8,640.4 L245,639.1 L245.2,637.9 L245.4,636.8 L245.6,635.7 L245.9,634.6 L246.1,633.6 L246.4,632.6 L246.7,631.7 L247.1,630.8 L247.4,630 L247.9,629.2 L248.3,628.4 L249.2,627.2 L250.2,626.1 L251.3,625.3 L252.5,624.6 L253.7,624 L255,623.5 L256.3,623.1 L257.5,622.8 L258.7,622.5 L259.9,622.3 L260.9,622.1 L262.4,621.9 L263.8,621.9 L265.2,622.2 L266.5,622.5 L267.6,623 L268.8,623.4 L269.8,623.9 L271.1,624.6 L272.1,625.4 L273.1,626.2 L273.9,627.3 L274.8,628.4 L275.4,629.5 L275.8,630.8 L276.2,632.2 L276.7,633.6 L277.2,634.8 L277.8,635.7 L278.6,636 L279.3,635.9 L280.1,635.5 L281,635 L281.9,634.2 L282.8,633.3 L283.9,632.2 L285,631.1 L286.2,629.8 L287.5,628.4 L288.2,627.7 L288.8,626.9 L289.5,626 L290.3,625.1 L291,624.2 L291.8,623.1 L292.6,622.1 L293.5,621 L294.3,620 L295.1,618.9 L296,617.8 L296.8,616.8 L297.7,615.7 L298.5,614.7 L299.4,613.8 L300.2,612.9 L301.1,612.2 L301.9,611.4 L302.7,610.6 L303.9,609.6 L305.1,609.2 L306.3,608.5 L307.5,608 L308.7,607.6 L309.9,607.4 L311.2,607.1 L312.3,606.8 L313.5,606.2 L314.7,606.2 L315.8,605.6 L316.9,605.1 L317.9,605.2 L319.3,604.7 L320.7,605.3 L322,605.2 L323.3,605.5 L324.5,605.6 L325.7,605.9 L326.8,606.4 L328,606.9 L329.1,606.5 L330.5,606.6 L331.9,606.5 L333.2,606.9 L334.5,606.6 L335.8,606.4 L337,606.7 L338.2,606.5 L339.6,606.5 L340.9,606.6 L342.2,606.8 L343.4,607.4 L344.5,607.5 L345.5,607.8 L346.9,608.6 L347.9,609.5 L348.8,609.9 L350.1,608.6 L351.3,607.9 L351.9,608.4 L352.5,609.1 L353.1,610.2 L353.8,611.7 L354.6,613.7 L354.9,614.6 L355.2,615.6 L355.5,616.8 L355.8,618.1 L356.1,619.5 L356.5,621 L356.8,622.5 L357.2,623.9 L357.5,625.3 L357.9,626.7 L358.3,628 L358.7,629.1 L359.2,630.1 L359.6,630.9 L360.1,631.5 L361.1,632 L362.2,631.8 L363.5,631.2 L364.7,630.3 L366,629.4 L367.2,628.5 L368.3,628 L369.2,627.9 L370.1,628.3 L370.8,629 L371.4,629.9 L371.9,631 L372.5,632.4 L373,633.9 L373.7,635.5 L374.1,636.4 L374.4,637.5 L374.8,638.7 L375.2,640 L375.6,641.4 L376,642.8 L376.4,644.2 L376.9,645.6 L377.3,647 L377.7,648.2 L378.1,649.4 L378.5,650.4 L378.8,651.2 L379.2,651.9 L380.8,652.7 L382.4,651.6 L383.8,651 L385.1,652.5 L386.2,654.4 L387.4,654.1 L387.7,653.5 L387.9,652.8 L388.2,651.8 L388.5,650.8 L388.7,649.6 L389,648.4 L389.2,647 L389.5,645.6 L389.8,644.2 L390,642.8 L390.3,641.4 L390.6,640 L390.8,638.7 L391.1,637.4 L391.4,636.2 L391.6,634.9 L391.8,633.5 L392.1,632.2 L392.3,630.8 L392.6,629.4 L392.8,628.1 L393,626.8 L393.3,625.5 L393.5,624.2 L393.8,623.1 L394.1,622 L394.4,621 L394.7,620.1 L395.5,618.3 L396.3,616.9 L397.2,615.8 L398.2,614.9 L399.2,614.3 L400.2,614 L401.3,614 L402.5,614.4 L403.7,615 L405,615.8 L406.2,616.6 L407.4,617.3 L408.5,618 L409.5,618.9 L410.5,619.8 L411.6,620.6 L412.6,621 L413.8,621 L414.6,620.6 L415.5,620 L416.4,619.2 L417.4,618.2 L418.3,617.2 L419.3,616.1 L420.2,615.2 L421.1,614.3 L422,613.7 L423.3,613.1 L424.6,612.7 L425.8,612.4 L427,612.3 L428.2,612.1 L429.3,611.9 L430.8,611.4 L432.2,610.8 L433.5,610.4 L434.8,610.6 L435.7,611.1 L436.6,611.9 L437.4,612.8 L438.3,614 L439.2,615.2 L440.2,616.4 L440.9,617.4 L441.6,618.5 L442.3,619.8 L443,621.1 L443.7,622.4 L444.4,623.5 L445.2,624.5 L445.9,625.2 L446.6,625.5 L447.5,625.2 L448.4,624.1 L449.3,622.5 L450.2,620.9 L451.1,619.5 L452,618.7 L453,618.8 L453.5,619.3 L453.9,620.1 L454.4,621.1 L454.9,622.3 L455.4,623.6 L455.9,625.1 L456.5,626.6 L457,628.1 L457.5,629.6 L458,631 L458.5,632.4 L458.9,633.5 L459.4,634.4 L459.9,635.1 L460.3,635.5 L461,635.5 L461.6,634.7 L462.2,633.5 L462.8,631.9 L463.4,630.2 L464,628.5 L464.5,627 L465.1,626 L465.7,625.5 L466.4,625.6 L467.1,626.1 L467.8,627 L468.5,628.1 L469.2,629.4 L469.9,630.8 L470.6,632.2 L471.2,633.7 L471.6,634.7 L472,635.9 L472.4,637.2 L472.8,638.6 L473.1,640 L473.5,641.5 L473.9,642.9 L474.2,644.2 L474.6,645.5 L475,646.6 L475.4,647.5 L475.8,648.3 L477.1,649.2 L478.5,648.8 L479.9,648.4 L481.2,649.2 L481.6,649.8 L482,650.5 L482.4,651.2 L482.8,652 L483.1,652.9 L483.5,653.8 L483.9,654.9 L484.2,656.2 L484.6,657.6 L485,659.2 L485.4,660.9 L485.8,662.9 L486,663.8 L486.1,664.7 L486.3,665.8 L486.5,666.8 L486.7,668 L486.9,669.2 L487.1,670.5 L487.3,671.8 L487.5,673.1 L487.7,674.5 L487.9,675.8 L488.1,677.3 L488.3,678.7 L488.5,680.1 L488.7,681.5 L488.9,683 L489.1,684.4 L489.3,685.8 L489.5,687.2 L489.7,688.5 L489.9,689.9 L490.1,691.1 L490.3,692.4 L490.4,693.6 L490.6,694.7 L490.8,695.8 L490.9,696.8 L491,697.7 L491.2,698.5 L491.3,699.3 L491.9,702.5 L492.2,704.1 L492.4,704.7 L492.6,705.1 L493,705.9 L493.5,707.2 L494,708.6 L494.6,709.9 L495.3,711.1 L496.2,712.1 L497.3,712.7 L498.6,712.9 L500,713.1 L501.4,713.4 L502.7,714 L503.6,714.6 L504.4,715.3 L505.2,716 L506.1,716.9 L506.8,717.9 L507.6,719.1 L508.3,720.5 L508.7,721.4 L509.1,722.4 L509.4,723.4 L509.8,724.5 L510.1,725.6 L510.4,726.8 L510.7,728 L511,729.3 L511.4,730.7 L511.7,732.1 L512,733.6 L512.4,735.1 L512.6,736.1 L512.9,737.2 L513.1,738.4 L513.4,739.6 L513.7,740.9 L513.9,742.2 L514.2,743.6 L514.4,744.9 L514.7,746.3 L515,747.6 L515.2,749 L515.5,750.3 L515.8,751.5 L516,752.8 L516.3,753.9 L516.5,755 L516.8,756 L517,756.9 L517.2,757.7 L517.9,760 L518.6,761.5 L519.1,762.4 L519.8,762.9 L520.5,763.4 L521.6,763.4 L522.8,762.9 L524.1,762.3 L525.3,762.6 L526,763.3 L526.7,764.2 L527.5,765.3 L528.2,766.5 L528.9,767.9 L529.6,769.3 L530.2,770.7 L530.6,771.8 L531,773 L531.3,774.2 L531.6,775.5 L532,776.8 L532.3,778.1 L532.6,779.4 L533,780.7 L533.4,782 L533.8,783.1 L534.3,784.2 L534.7,785.2 L535.2,786.2 L535.7,787.2 L536.2,788.3 L536.7,789.4 L537.2,790.7 L537.8,792 L538.3,793.4 L538.6,794.4 L539,795.6 L539.3,796.8 L539.7,798.2 L540,799.6 L540.4,801.1 L540.7,802.5 L541.1,804 L541.5,805.4 L541.8,806.7 L542.2,808 L542.6,809.1 L542.9,810.1 L543.3,810.9 L543.6,811.6 L544,812 L544.7,812.2 L545.4,811.6 L546.1,810.5 L546.9,809 L547.6,807.3 L548.3,805.6 L548.9,804.2 L549.6,803.1 L550.6,801.8 L551.6,800.6 L552.6,799.7 L553.5,799.1 L554.5,799 L555.3,799.2 L556.1,799.6 L557,800.3 L557.8,801.3 L558.6,802.8 L559.4,804.7 L559.7,805.5 L560,806.4 L560.3,807.3 L560.5,808.3 L560.8,809.4 L561.1,810.5 L561.4,811.7 L561.7,812.9 L561.9,814.2 L562.2,815.5 L562.5,816.8 L562.8,818.2 L563.1,819.7 L563.3,821.1 L563.6,822.6 L563.9,824.1 L564.2,825.7 L564.4,826.7 L564.6,827.7 L564.7,828.8 L564.9,829.9 L565.1,831 L565.3,832.2 L565.5,833.4 L565.6,834.6 L565.8,835.8 L566,837 L566.2,838.2 L566.4,839.5 L566.6,840.8 L566.7,842 L566.9,843.3 L567.1,844.6 L567.3,845.8 L567.5,847.1 L567.7,848.4 L567.8,849.6 L568,850.9 L568.2,852.1 L568.4,853.4 L568.6,854.6 L568.7,855.8 L568.9,856.9 L569.1,858.1 L569.3,859.4 L569.5,860.7 L569.7,861.9 L569.9,863.2 L570.1,864.5 L570.3,865.8 L570.5,867 L570.6,868.3 L570.8,869.6 L571,870.8 L571.2,872.1 L571.4,873.3 L571.6,874.5 L571.8,875.8 L572,877 L572.2,878.2 L572.4,879.4 L572.6,880.5 L572.8,881.7 L573,882.8 L573.2,884 L573.4,885.1 L573.7,886.2 L573.9,887.3 L574.2,888.7 L574.5,890 L574.8,891.3 L575.1,892.6 L575.4,893.9 L575.7,895.1 L576,896.4 L576.4,897.6 L576.7,898.8 L577,900 L577.4,901.1 L577.7,902.3 L578.1,903.4 L578.4,904.5 L578.8,905.7 L579.2,906.8 L579.6,907.8 L580,908.9 L580.4,910 L580.9,911.3 L581.5,912.5 L582.1,913.8 L582.7,915 L583.3,916.3 L583.9,917.5 L584.6,918.7 L585.2,919.9 L585.9,921 L586.5,922.1 L587.1,923.2 L587.8,924.2 L588.4,925.2 L589,926.1 L589.6,927 L590.1,927.8 L591.1,929.3 L592.1,930.7 L593,932 L593.9,933.1 L594.8,934 L595.6,934.7 L596.5,935 L597.4,935.1 L598.2,934.9 L599,934.5 L599.9,933.8 L600.7,933 L601.5,932 L602.3,930.8 L603.1,929.4 L603.9,927.9 L604.7,926.2 L605.1,925.3 L605.4,924.4 L605.8,923.5 L606.2,922.4 L606.5,921.4 L606.9,920.3 L607.2,919.1 L607.6,917.9 L607.9,916.7 L608.3,915.5 L608.6,914.2 L609,912.9 L609.3,911.6 L609.6,910.3 L610,908.9 L610.3,907.6 L610.6,906.2 L610.9,904.9 L611.2,903.5 L611.4,902.4 L611.7,901.3 L611.9,900.2 L612.1,899 L612.3,897.9 L612.6,896.7 L612.8,895.6 L613,894.4 L613.2,893.2 L613.4,892 L613.6,890.7 L613.8,889.5 L614,888.3 L614.2,887 L614.4,885.8 L614.6,884.5 L614.8,883.2 L614.9,882 L615.1,880.7 L615.3,879.4 L615.5,878.1 L615.7,876.9 L615.8,875.6 L616,874.3 L616.1,873.2 L616.3,872 L616.4,870.8 L616.6,869.6 L616.7,868.5 L616.8,867.3 L616.9,866 L617,864.8 L617.2,863.6 L617.3,862.4 L617.4,861.2 L617.5,859.9 L617.6,858.7 L617.7,857.5 L617.8,856.2 L617.9,855 L618,853.8 L618.1,852.6 L618.3,851.4 L618.4,850.1 L618.5,848.9 L618.6,847.7 L618.7,846.6 L618.9,845.4 L619,844.2 L619.2,843 L619.3,841.9 L619.5,840.6 L619.6,839.3 L619.8,838 L620,836.7 L620.2,835.4 L620.4,834.1 L620.5,832.8 L620.7,831.5 L620.9,830.2 L621.1,828.9 L621.3,827.6 L621.5,826.3 L621.7,825.1 L621.9,823.8 L622.1,822.6 L622.3,821.4 L622.5,820.2 L622.7,819.1 L623,818 L623.2,816.9 L623.4,815.8 L623.6,814.8 L623.9,813.8 L624.1,812.8 L624.5,811.2 L624.9,809.8 L625.4,808.5 L625.8,807.3 L626.3,806.1 L626.8,805 L627.2,804 L627.7,802.9 L628.2,801.9 L628.7,800.9 L629.2,799.9 L629.6,798.9 L630.1,797.8 L630.6,796.6 L631,795.4 L631.5,794.2 L632,792.9 L632.4,791.5 L632.9,790.1 L633.4,788.7 L633.8,787.4 L634.3,786 L634.8,784.7 L635.2,783.5 L635.7,782.4 L636.1,781.4 L636.5,780.5 L636.9,779.8 L637.3,779.3 L638.3,779 L639,780.1 L639.7,781.8 L640.6,783.2 L641.8,783.3 L642.4,782.9 L643.1,782.4 L643.8,781.7 L644.6,781 L645.4,780.1 L646.3,779.1 L647.1,778.1 L648,777 L648.8,775.9 L649.7,774.7 L650.4,773.5 L651.2,772.3 L651.9,771.1 L652.4,770.2 L652.9,769.2 L653.4,768.2 L653.8,767.1 L654.3,766.1 L654.7,765 L655.1,763.9 L655.5,762.7 L655.9,761.6 L656.3,760.4 L656.7,759.2 L657.1,758 L657.5,756.8 L657.9,755.6 L658.3,754.4 L658.7,753.2 L659.1,752 L659.5,750.9 L659.8,749.8 L660.2,748.6 L660.5,747.4 L660.8,746.2 L661.2,745 L661.5,743.7 L661.9,742.5 L662.2,741.3 L662.5,740 L662.8,738.8 L663.2,737.6 L663.5,736.4 L663.8,735.3 L664.2,734.2 L664.5,733.1 L664.8,732 L665.2,731 L665.5,730.1 L666.1,728.6 L666.7,727.3 L667.2,726.2 L667.8,725.1 L668.4,724.1 L668.9,723.2 L669.5,722.2 L670.1,721.1 L670.7,720 L671.3,718.8 L671.9,717.4 L672.3,716.4 L672.7,715.3 L673.2,714.1 L673.6,712.9 L674,711.7 L674.5,710.4 L674.9,709.1 L675.4,707.7 L675.8,706.4 L676.3,705.1 L676.7,703.8 L677.2,702.6 L677.6,701.4 L678,700.2 L678.4,699.2 L678.8,698.2 L679.2,697.3 L680,695.6 L680.7,694.2 L681.5,693 L682.2,691.9 L682.9,691 L683.5,690.2 L684.1,689.4 L684.7,688.8 L685.9,688 L687,687.9 L688.3,687.3 L689.1,686.5 L689.9,685.3 L690.8,684 L691.7,682.7 L692.7,681.6 L693.7,680.8 L694.7,680.4 L695.7,680.5 L696.7,680.8 L697.8,681.3 L698.9,682.2 L700,683.3 L701,684.7 L702,686.4 L702.4,687.2 L702.8,688.2 L703.2,689.2 L703.6,690.3 L704,691.5 L704.3,692.8 L704.7,694.1 L705.1,695.4 L705.4,696.8 L705.8,698.1 L706.2,699.4 L706.5,700.7 L706.9,702 L707.2,703.2 L707.6,704.4 L708,705.4 L708.3,706.4 L708.9,707.8 L709.4,708.8 L709.9,709.6 L710.4,710.3 L710.9,710.9 L711.4,711.7 L711.9,712.6 L712.5,713.8 L713.1,715.3 L713.8,717.4 L714,718.2 L714.3,719.1 L714.6,720.1 L714.8,721.1 L715.1,722.2 L715.4,723.4 L715.7,724.6 L716,725.9 L716.3,727.2 L716.6,728.5 L716.9,729.9 L717.2,731.3 L717.5,732.6 L717.9,734.1 L718.2,735.5 L718.5,736.9 L718.8,738.3 L719.2,739.6 L719.5,741 L719.8,742.3 L720.1,743.6 L720.4,744.9 L720.8,746.1 L721.1,747.3 L721.4,748.4 L721.7,749.5 L722,750.4 L722.3,751.3 L722.6,752.2 L722.9,752.9 L724,755.1 L725,756.8 L726,757.9 L727.1,758.5 L728.1,758.9 L729.1,759 L730.1,759 L731.1,758.9 L732.1,758.8 L733.2,758.5 L734.2,758 L735.3,757.3 L736.3,756.4 L737.3,755.2 L738.3,753.8 L739.3,752 L739.7,751.2 L740.1,750.2 L740.5,749.2 L740.9,748 L741.3,746.8 L741.7,745.6 L742.1,744.2 L742.5,742.9 L742.9,741.5 L743.2,740.1 L743.6,738.7 L744,737.3 L744.4,735.9 L744.7,734.6 L745.1,733.3 L745.4,732.1 L745.7,731 L746,730 L746.3,729.1 L746.6,728.3 L747.6,725.9 L748.3,724.3 L748.9,723.3 L749.5,722.9 L750.2,722.8 L750.9,723.1 L751.6,723.9 L752.4,725.1 L753.1,726.6 L753.9,728.3 L754.3,729.3 L754.8,730.6 L755.2,732.1 L755.7,733.7 L756.2,735.3 L756.7,736.8 L757.1,738.1 L757.6,739.1 L758,739.8 L758.4,740.1 L758.7,739.9 L759.1,739.2 L759.3,738.2 L759.6,737 L759.9,735.5 L760.1,734 L760.4,732.4 L760.6,730.9 L760.9,729.5 L761.2,728.3 L761.6,727 L761.9,725.7 L762.2,724.4 L762.5,723.1 L762.9,721.9 L763.4,720.8 L764,719.8 L764.8,718.8 L765.6,718.1 L766.5,717.4 L767.5,716.7 L768.6,716.1 L769.8,715.3 L771,714.9 L772.2,714.3 L773.4,713.7 L774.6,713.6 L775.7,713.8 L776.9,713.6 L778.2,713.4 L779.6,713 L780.9,712.5 L782.2,712.3 L783.4,712 L784.6,712.4 L785.7,712 L786.7,712.4 L788.4,711.9 L789.6,712.4 L790.7,712.3 L792.1,712.4 L793.2,712.7 L794.4,712.8 L795.7,713.5 L796.9,713.9 L798.2,714.1 L799.4,714.7 L800.4,715.5 L801.4,716.2 L802.4,716.8 L803.3,717.6 L804.3,718.3 L805.2,719.2 L806.1,720.1 L807.3,720.8 L808.5,721.4 L809.6,721 L810.8,721 L812.1,721.1 L813.3,722 L814.5,721.8 L815.8,721.8 L817.1,721.8 L818.4,721.8 L819.7,722.1 L821,722.4 L822.3,722.3 L823.6,722.8 L824.9,723.6 L826.1,723.9 L827.3,724.3 L828.4,724.7 L829.4,725.5 L830.4,726.3 L831.4,726.9 L832.4,728 L833.4,728.3 L834.6,729.1 L835.8,729.6 L837.1,731.1 L838.3,731.7 L839.5,732.4 L840.5,733.6 L841.4,734.4 L842.3,734.7 L843.3,735.6 L844.3,736.2 L845.5,737 L846.4,737.3 L847.4,738.3 L848.4,739.3 L849.5,739.7 L850.6,740.4 L851.6,741 L852.7,742 L853.7,743 L854.7,743.5 L856.1,744 L857.4,744.3 L858.7,744 L860,743.8 L861.1,744.3 L862.2,744.6 L863.9,744.6 L865.4,744.1 L866.8,743.6 L867.9,743.6 L868.9,742.7 L870,742.8 L871.4,742 L872.4,741.5 L873.5,740.9 L874.8,741 L876.1,740.3 L877.3,740 L878.6,740.1 L879.7,740.5 L880.5,741 L881.3,741.7 L882,742.3 L882.8,743.1 L883.5,744 L884.2,745.1 L885,746.5 L885.7,748.1 L886.5,750.1 L886.8,750.9 L887.1,751.8 L887.4,752.7 L887.7,753.7 L888.1,754.6 L888.4,755.7 L888.7,756.8 L889,757.9 L889.4,759 L889.7,760.2 L890,761.4 L890.3,762.6 L890.7,763.9 L891,765.2 L891.3,766.5 L891.6,767.8 L892,769.1 L892.3,770.5 L892.6,771.9 L892.9,773.3 L893.2,774.7 L893.5,776.1 L893.8,777.5 L894.1,778.9 L894.3,779.9 L894.5,781 L894.7,782.1 L894.9,783.2 L895.1,784.3 L895.3,785.4 L895.5,786.5 L895.7,787.7 L895.9,788.9 L896.1,790 L896.2,791.2 L896.4,792.4 L896.6,793.6 L896.8,794.8 L897,796 L897.2,797.3 L897.3,798.5 L897.5,799.7 L897.7,801 L897.9,802.2 L898,803.5 L898.2,804.7 L898.4,806 L898.6,807.2 L898.8,808.5 L898.9,809.7 L899.1,811 L899.3,812.2 L899.5,813.5 L899.7,814.7 L899.8,815.9 L900,817.2 L900.2,818.4 L900.4,819.6 L900.6,820.8 L900.7,822 L900.9,823.2 L901.1,824.4 L901.3,825.6 L901.5,826.9 L901.7,828.1 L901.9,829.3 L902,830.6 L902.2,831.8 L902.4,833.1 L902.6,834.3 L902.8,835.6 L903,836.8 L903.2,838 L903.4,839.3 L903.5,840.5 L903.7,841.8 L903.9,843 L904.1,844.2 L904.3,845.4 L904.4,846.6 L904.6,847.9 L904.8,849.1 L905,850.2 L905.1,851.4 L905.3,852.6 L905.5,853.8 L905.7,854.9 L905.8,856.1 L906,857.2 L906.1,858.3 L906.3,859.4 L906.5,860.7 L906.7,862 L906.8,863.3 L907,864.6 L907.2,865.9 L907.3,867.2 L907.5,868.4 L907.7,869.7 L907.8,870.9 L908,872.1 L908.1,873.4 L908.3,874.6 L908.4,875.8 L908.6,877 L908.7,878.1 L908.8,879.3 L909,880.5 L909.1,881.6 L909.3,882.8 L909.4,883.9 L909.6,885.1 L909.8,886.2 L909.9,887.3 L910.1,888.4 L910.3,889.5 L910.4,890.6 L910.6,891.7 L910.8,892.8 L911,894.1 L911.3,895.4 L911.5,896.8 L911.8,898.1 L912,899.4 L912.3,900.8 L912.5,902.1 L912.8,903.4 L913,904.7 L913.3,905.9 L913.6,907.2 L913.8,908.4 L914.1,909.7 L914.4,910.9 L914.7,912 L914.9,913.2 L915.2,914.3 L915.5,915.3 L915.8,916.4 L916.1,917.4 L916.3,918.3 L916.6,919.2 L916.9,920.1 L917.5,921.8 L918.1,923.3 L918.8,924.7 L919.4,926 L920.1,927.1 L920.7,928.1 L921.4,929 L922,929.8 L922.6,930.4 L923.2,931 L923.7,931.5 L925,932.2 L926,931.9 L927,931.1 L928.3,930 L929.1,929.4 L929.9,928.6 L930.9,927.8 L931.8,926.8 L932.7,925.8 L933.6,924.7 L934.4,923.6 L935.1,922.4 L935.6,921.3 L936,920 L936.3,918.6 L936.6,917.2 L936.9,915.8 L937.2,914.4 L937.4,913.1 L937.7,912 L938.1,911 L939,909.5 L940,908.6 L941,907.7 L942,906.5 L942.6,905.4 L943.3,904.1 L944,902.7 L944.7,901.3 L945.4,900 L945.9,898.9 L946.3,898.1" fill="none" stroke="#ff00ff" stroke-width="1.15" stroke-linejoin="round"/>
<path d="M83.3,169.8C83.5,168.5 84.8,158.8 85.3,158.4C85.8,158.1 87,168.1 87.6,166.8C88.2,165.5 90.1,148.8 90.6,147.1C91.1,145.4 91.7,154.3 92.1,152.4C92.5,150.5 94,132.5 94.4,130.4C94.8,128.3 95.5,133 95.9,134.2C96.3,135.4 96.9,134.8 97.5,141C98.1,147.2 100.5,185.7 101.3,187.3C102.1,188.9 103.6,157.8 104.3,154.7C105,151.6 106.6,159.5 107.3,160.7C108,161.9 109.7,164 110.4,165.3C111.1,166.6 112.7,172.6 113.4,172.1C114.1,171.6 115.6,161.9 116.4,160.7C117.2,159.5 119.3,160.5 120.2,161.5C121.1,162.5 123.3,169.7 124,169.1C124.7,168.5 125.8,156.3 126.3,156.2C126.8,156.1 127.9,167.2 128.6,168.3C129.3,169.4 131.6,167 132.4,165.3C133.2,163.6 134.8,154.7 135.4,153.9C136,153.1 137.1,158.1 137.7,158.4C138.3,158.8 140,154.9 140.7,156.9C141.4,158.9 143.1,174.6 143.8,175.9C144.5,177.2 146,171.3 146.8,168.3C147.6,165.3 149.8,147.7 150.6,150.1C151.4,152.5 152.8,187.6 153.6,188.8C154.4,190 156.7,164.2 157.4,160.7C158.1,157.2 159.1,161.1 159.7,159.2C160.3,157.3 161.9,142.8 162.7,144C163.5,145.2 165.7,168.1 166.5,169.1C167.3,170.1 168.9,154.7 169.6,152.4C170.3,150.1 171.9,148.2 172.6,149.3C173.3,150.4 174.7,161.9 175.6,162.2C176.5,162.5 179.1,152.3 180.2,151.6C181.3,150.9 184.1,155.1 184.8,156.2C185.5,157.3 185.9,161 186.3,160.7C186.7,160.4 188,153.7 188.5,153.9C189,154.1 190.3,161.4 190.8,162.2C191.3,163 192.6,159.4 193.1,160.7C193.6,162 194.8,174.5 195.4,173.6C196,172.7 197.7,154.1 198.4,153.1C199.1,152.1 200.7,163.8 201.3,164.7C201.9,165.6 203.2,161.1 203.6,160.9C204,160.7 204.7,161.2 205.1,163.4C205.5,165.6 206.5,179.3 207,180C207.5,180.7 209.1,169.9 209.6,169.2C210.1,168.5 211.1,171.8 211.5,174.3C211.9,176.8 212.4,187.5 212.8,190.9C213.2,194.3 214.9,200.2 215.3,203.6C215.7,207 216.3,214.5 216.6,220.2C216.9,225.9 217.6,246.1 217.9,252.2C218.2,258.3 218.8,268.9 219.2,272.6C219.6,276.3 221.1,280.5 221.7,284.1C222.3,287.7 223.9,299.1 224.3,303.3C224.7,307.5 225.2,315.4 225.5,319.9C225.8,324.4 226.7,341.9 227.2,342.2C227.7,342.5 228.9,327.2 229.4,322.4C229.9,317.6 230.8,303.2 231.3,301.3C231.8,299.4 233.1,304.1 233.5,305.8C233.9,307.5 234.2,310 234.5,316C234.8,322 236,354.5 236.4,357.5C236.8,360.5 237.9,345.3 238.3,341.6C238.7,337.9 239.6,329 240.2,326.2C240.8,323.4 242.7,319.1 243.4,317.3C244.1,315.5 245.3,314.3 246,310.9C246.7,307.5 248.6,290 249.2,287.9C249.8,285.8 250.6,289.1 251.1,293C251.6,296.9 252.9,319.6 253.4,321.1C253.9,322.6 254.8,312.1 255.2,305.8C255.6,299.5 256.3,274.5 256.8,267.5C257.3,260.5 258.8,249.2 259.4,245.8C260,242.4 261.4,240.9 261.9,238.1C262.4,235.3 263.3,223.7 263.9,221.5C264.5,219.3 266.4,217.1 267.1,219.6C267.8,222.1 269.6,240.1 270.2,243.2C270.8,246.3 271.7,243.6 272.2,245.8C272.7,248 273.6,259.9 274.1,262.4C274.6,264.9 276,263.5 276.6,267.5C277.2,271.5 278.6,290.3 279.2,296.9C279.8,303.5 281.1,313 281.7,323.7C282.3,334.4 283.7,372.1 284.2,388.2C284.7,404.3 285.7,444.2 286.3,461.3C286.9,478.4 288.8,525.6 289.4,534.5C290,543.4 290.8,536.3 291.5,537.6C292.2,538.9 294.4,550 295.1,546C295.8,542 297.2,519.2 297.8,503.2C298.4,487.2 299.3,431.1 299.9,409.1C300.5,387.1 302.3,332.1 303,315C303.7,297.9 305.5,271.1 306.2,262.7C306.9,254.3 308.6,244.5 309.3,242.9C310,241.3 311.7,248.9 312.4,249.1C313.1,249.3 314.9,246.8 315.6,245C316.3,243.2 318,231.7 318.7,233.5C319.4,235.3 320.5,259.3 321.2,260.6C321.9,261.9 323.7,246 324.4,245C325.1,244 326.5,247.8 327.1,252.3C327.7,256.8 328.7,267.7 329.2,283.6C329.7,299.5 330.8,364.9 331.3,388.2C331.8,411.5 332.7,483.3 333.3,483.3C333.9,483.3 335.4,409.1 336.1,388.2C336.8,367.3 338.8,311.8 339.6,304.5C340.4,297.2 342.1,324.8 342.8,325.4C343.5,326 345.2,306.5 345.9,309.8C346.6,313.1 347.8,353.1 348.4,353.7C349,354.3 350.4,320 351.1,315C351.8,310 353.7,316.7 354.3,310.8C354.9,304.9 355.9,269.2 356.4,264.8C356.9,260.4 358.2,276.6 358.9,273.2C359.6,269.8 361.5,239.1 362.2,236C362.9,232.9 364,236.1 364.7,247C365.4,257.9 367.1,316.5 367.9,329.6C368.7,342.7 371,355.9 371.7,359.4C372.4,362.9 373,357.1 373.5,359.4C374,361.7 375.6,381.1 376.1,379.5C376.6,377.9 377.4,352.5 377.8,345.5C378.2,338.5 379.1,325.7 379.6,319.4C380.1,313.1 381.7,295.9 382.2,291.5C382.7,287.1 383.7,281.6 384.3,281.9C384.9,282.2 386.7,294.3 387.4,294.1C388.1,293.9 389.4,281.7 390,280.2C390.6,278.7 391.8,278.5 392.3,281C392.8,283.5 394,295.5 394.4,302C394.8,308.5 395.7,324.6 396.1,336.8C396.5,349 397.5,393.4 397.9,406.5C398.3,419.6 399.2,448.2 399.6,449.2C400,450.2 400.9,426.3 401.4,415.2C401.9,404.1 403.4,365.8 404,354.2C404.6,342.6 406.1,322 406.6,315.9C407.1,309.8 408.2,308.7 408.7,302C409.2,295.3 410.4,264.2 410.9,258.4C411.4,252.6 412.6,254.6 413.2,252.3C413.8,250 415.3,237.3 416.2,238.4C417.1,239.5 419.5,262.2 420.5,261.9C421.5,261.6 423.7,235.1 424.5,235.7C425.3,236.3 426.8,260 427.5,267.1C428.2,274.2 429.9,294.4 430.6,296.8C431.3,299.2 432.8,293.9 433.6,288C434.4,282.1 436.4,249.9 437.1,246.2C437.8,242.5 439,259.6 439.7,256.6C440.4,253.6 442.3,224.7 443.2,220.9C444.1,217.1 446.7,221 447.5,224.4C448.3,227.8 449.6,244.4 450.1,249.7C450.6,255 451.6,260.3 451.9,270C452.2,279.7 452.5,314.7 452.8,332.9C453.1,351.1 453.8,408.5 454.1,425.8C454.4,443.1 455.2,468.6 455.6,481.6C456,494.6 457,528.7 457.4,537.3C457.8,545.9 458.4,554.6 458.7,555C459,555.4 459.8,545.3 460.2,541.1C460.6,536.9 461.7,523.8 462.1,518.8C462.5,513.8 463.5,501.3 463.9,498.3C464.3,495.3 465.4,496.8 465.8,492.7C466.2,488.6 467.3,473 467.7,463C468.1,453 469.1,420.3 469.5,407.3C469.9,394.3 471,362.8 471.4,351.5C471.8,340.2 472.8,318.2 473.2,310.6C473.6,303 474.6,290.6 475.1,286.5C475.6,282.4 477.2,276.4 477.9,275.3C478.6,274.2 480.1,276.1 480.7,277.2C481.3,278.3 482.9,283.1 483.4,284.6C483.9,286.1 484.9,287.2 485.3,290.2C485.7,293.2 486.7,303.4 487.2,310.6C487.7,317.8 488.9,343.3 489.4,351.5C489.9,359.7 491.3,378.2 491.8,381.2C492.3,384.2 493.3,379.7 493.7,377.5C494.1,375.3 495.1,362.9 495.5,362.7C495.9,362.5 497,371.7 497.4,375.7C497.8,379.7 498.8,399.8 499.2,397C499.6,394.2 500.6,362.2 501.1,351.5C501.6,340.8 503.4,312.6 503.9,305C504.4,297.4 505.2,289.5 505.7,286.5C506.2,283.5 507.7,279.2 508.2,279C508.7,278.8 509.8,280.9 510.4,284.6C511,288.3 512.5,302.4 513.2,310.6C513.9,318.8 515.5,343.9 516,355.2C516.5,366.5 517.4,393.6 517.8,407.3C518.2,421 519.2,458 519.7,472.3C520.2,486.6 522,525.6 522.5,529.9C523,534.2 523.9,517.3 524.3,509.5C524.7,501.7 525.8,473.9 526.2,463C526.6,452.1 527.5,427.3 528,416.5C528.5,405.7 530.1,378.3 530.8,370.1C531.5,361.9 533.1,347.7 533.8,346.3C534.5,344.9 536,355.2 536.4,358C536.8,360.8 536.9,360.5 537.3,370.1C537.6,379.7 538.8,418.6 539.4,440C540,461.4 541.5,528.9 542.1,553.3C542.7,577.7 543.8,630.7 544.4,649.1C545,667.5 546.3,711.4 546.9,711.4C547.5,711.4 548.6,667.5 549.2,649.1C549.8,630.7 551.7,571.9 552.4,553.3C553.1,534.7 554.5,505.1 555.6,489.4C556.7,473.7 560.8,434 561.9,419.1C563,404.2 564.2,375 565.1,361.6C566,348.2 568.8,314.9 569.9,304.1C571,293.3 573.7,274.6 574.7,269C575.7,263.4 577.9,259.9 578.6,256.2C579.3,252.5 580.4,241 581.1,237.1C581.8,233.2 583.6,222.3 584.3,222.7C585,223.1 586.9,236 587.5,240.3C588.1,244.6 589.1,261.6 589.7,259.4C590.3,257.2 591.6,228.5 592.3,221.1C593,213.7 594.6,199.4 595.5,195.6C596.4,191.8 598.9,188.9 599.6,188.5C600.3,188.1 601,189.6 601.6,192.4C602.2,195.2 603.8,210.2 604.5,212.1C605.2,214 606.7,209.5 607.3,208.6C607.9,207.7 608.9,204.6 609.4,204.5C609.9,204.4 611.1,207.6 611.7,207.8C612.3,208 613.7,207.2 614.6,206.2C615.5,205.2 618.5,200 619.4,198.9C620.3,197.8 621.3,197.7 621.9,196.4C622.5,195.1 623.5,189.3 624.3,187.5C625.1,185.7 628.2,181.3 629.1,180.7C630,180.1 631.6,182.9 632.4,182.7C633.2,182.5 634.7,179.1 635.6,178.6C636.5,178.1 638.8,178.3 639.7,178.6C640.6,178.9 642.7,180.6 643.7,181.5C644.7,182.4 647.3,183.1 648.6,185.9C649.9,188.7 653.9,199.9 655.1,205.3C656.3,210.7 657.9,230.3 658.6,232.6C659.3,234.9 660.5,229 661.5,224.8C662.5,220.6 666,201.1 667.2,196.4C668.4,191.7 671.1,185.3 672.1,184.6C673.1,183.9 675.3,189.6 676.1,190.8C676.9,192 678,196.9 678.9,195.3C679.8,193.7 682.6,178.9 683.4,177C684.2,175.1 685.2,177.6 685.8,179.1C686.4,180.6 687.4,190.2 688.3,190C689.2,189.8 692.8,177.9 693.6,177.8C694.4,177.7 694.9,183.9 695.5,189.1C696.1,194.3 697.5,221.5 698.5,222.3C699.5,223.1 703.1,197.6 704.1,196C705.1,194.4 706.2,207.9 707.2,208.3C708.2,208.7 711.7,200.3 712.6,199.4C713.5,198.5 714.3,199 715,200.5C715.7,202 717.4,211.3 718.2,212.6C719,213.9 721.2,210.6 722.1,211.3C723,212 724.9,218.2 725.7,219C726.5,219.8 728.5,218 729.2,218.3C729.9,218.6 731.3,219.9 732,221.9C732.7,223.9 734.3,229.1 734.9,235.3C735.5,241.5 736.5,266.1 737,275C737.5,283.9 739,311.2 739.6,311.2C740.2,311.2 741.4,284.9 742,275C742.6,265.1 744.3,231.7 744.8,226.1C745.3,220.5 745.8,225.9 746.2,226.6C746.6,227.3 747.5,232.5 747.9,232.5C748.3,232.5 749.3,227.6 749.8,226.6C750.3,225.6 752,223.1 752.6,224.3C753.2,225.5 754.1,234.6 754.7,236.8C755.3,239 757,242.2 757.6,243.1C758.2,244 759.1,246.2 759.7,244.6C760.3,243 761.8,232.4 762.5,229.7C763.2,227 764.7,222.2 765.3,221.5C765.9,220.8 767,221.4 767.5,224C768,226.6 769,237.9 769.6,243.8C770.2,249.8 771.6,268 772.4,275C773.2,282 775.9,302.6 776.7,303.4C777.5,304.2 778.8,289.1 779.5,282.1C780.2,275.1 781.6,250.7 782.3,243.8C783,236.9 784.6,224.6 785.2,222.9C785.8,221.2 787.1,229.6 787.7,229C788.3,228.4 789.6,218.4 790.1,218.1C790.6,217.8 791.8,223.7 792.3,226.8C792.8,229.9 793.8,244.9 794.4,244.6C795,244.3 796.6,227.7 797.2,224C797.8,220.3 798.9,214.3 799.4,212.7C799.9,211.1 801,212 801.5,210.5C802,209 803,201 803.6,200.2C804.2,199.4 805.7,201.9 806.4,203.5C807.1,205.1 808.6,210.7 809.3,214.1C810,217.5 812,224.7 812.8,232.5C813.6,240.3 815.7,279 816.4,280.7C817.1,282.4 818.6,253.2 819.2,246.7C819.8,240.2 820.8,227.6 821.3,225.4C821.8,223.2 822.8,228.8 823.4,227.6C824,226.4 825.7,216.3 826.3,215.5C826.9,214.7 827.9,220.5 828.4,220.5C828.9,220.5 830.2,215.3 830.8,215.5C831.4,215.7 832.8,220.3 833.4,222.6C834,224.9 835.6,235.3 836.2,235.3C836.8,235.3 837.7,221.8 838.3,222.3C838.9,222.8 840.9,239.6 841.6,239.6C842.3,239.6 844.1,222.6 844.7,222.6C845.3,222.6 846.3,232.6 846.8,239.6C847.3,246.6 848.2,279.5 848.7,282.8C849.2,286.1 850.6,272.8 851.1,267.9C851.6,263 852.8,244.9 853.2,241C853.6,237.1 854.3,235.3 854.6,234.6C854.9,233.9 855.5,238.2 856,235.3C856.5,232.4 858,211.4 858.5,209.5C859,207.6 860,215.9 860.4,219.3C860.8,222.7 861.6,238.7 862.2,238.8C862.8,238.9 865,223.8 865.9,220.5C866.8,217.2 868.6,208.7 869.5,210.1C870.4,211.5 872.4,231 873.2,232.1C874,233.2 875.6,220.5 876.2,219.9C876.8,219.3 877.8,227 878.3,226.6C878.8,226.2 879.9,213 880.5,216.8C881.1,220.6 882.9,257.1 883.5,259.5C884.1,261.9 885.4,238.8 886,237C886.6,235.2 887.8,243.4 888.4,244.3C889,245.2 890.3,247.9 890.9,244.9C891.5,241.9 892.7,220.3 893.3,218.7C893.9,217.1 894.9,226.7 895.7,231.5C896.5,236.3 899.1,259.2 900,260.1C900.9,261 902.9,240.8 903.7,238.8C904.5,236.8 906.1,240.9 906.7,243C907.3,245.1 908,259.8 908.5,256.5C909,253.2 910.1,213.7 910.7,215C911.3,216.3 912.7,267.6 913.4,267.4C914.1,267.2 915.9,223.2 916.5,213.2C917.1,203.2 918,177.2 918.5,181.5C919,185.8 920,237.3 920.7,249.8C921.4,262.3 923.5,290.2 924.1,288.8C924.7,287.4 925.7,251.9 926.2,237.6C926.7,223.3 928.1,170.5 928.7,166.2C929.3,161.9 930.5,180.4 931.1,201C931.7,221.6 933.5,332.4 934.1,342.4C934.7,352.4 935.6,304.9 936,286.3C936.4,267.7 937.3,197.4 937.8,182.7C938.3,168 939.6,164.6 940.2,160.7C940.8,156.8 942.8,148.7 943.3,149.1C943.8,149.5 944.5,149.8 944.9,164.4C945.2,179 946.1,261.3 946.3,274.1" fill="none" stroke="#008000" stroke-width="1.05" stroke-linejoin="round"/>
<line x1="294.6" y1="1092.4" x2="315.7" y2="1121.6" stroke="#1a1a1a" stroke-width="1.1"/>
<path d="M286.3,1080.9 L292.8,1096.2 L298.8,1091.9 Z" fill="#000"/>
<line x1="698.8" y1="1144.2" x2="706.8" y2="1159.4" stroke="#1a1a1a" stroke-width="1.1"/>
<path d="M692.2,1131.6 L696.5,1147.7 L703,1144.2 Z" fill="#000"/>
<line x1="245.9" y1="876.6" x2="250.8" y2="889.2" stroke="#1a1a1a" stroke-width="1.1"/>
<path d="M240.7,863.4 L243.2,879.8 L250.1,877.1 Z" fill="#000"/>
<line x1="657.7" y1="953.4" x2="668.4" y2="967.9" stroke="#1a1a1a" stroke-width="1.1"/>
<path d="M649.3,942 L655.9,957.2 L661.9,952.8 Z" fill="#000"/>
<line x1="400.3" y1="670.3" x2="413.8" y2="681.1" stroke="#1a1a1a" stroke-width="1.1"/>
<path d="M389.2,661.4 L399.5,674.4 L404.2,668.6 Z" fill="#000"/>
<line x1="552.9" y1="836.3" x2="555.4" y2="851" stroke="#1a1a1a" stroke-width="1.1"/>
<path d="M550.5,822.3 L549.6,838.9 L556.9,837.6 Z" fill="#000"/>
<line x1="778.3" y1="753.9" x2="800.3" y2="781.1" stroke="#1a1a1a" stroke-width="1.1"/>
<path d="M769.4,742.9 L776.7,757.8 L782.5,753.2 Z" fill="#000"/>
<text x="334" y="1703" font-size="36.7" font-weight="bold">Wavenumbers (cm</text>
<rect x="661" y="1675.4" width="5.7" height="2.4" fill="#000"/>
<path d="M672.6,1666.7 L675.1,1666.7 L675.1,1681.9 L672.4,1681.9 L672.4,1670.9 L668.5,1673.4 L668.3,1670.8 C669.6,1670.2 671.8,1668.6 672.6,1666.7 Z" fill="#000"/>
<text x="679.8" y="1703" font-size="36.7" font-weight="bold">)</text>
<text transform="translate(41.9,1009.2) rotate(-90)" font-size="38" font-weight="bold">Transmittance (a.u.)</text>
<text x="92.1" y="1275.6" font-size="35.5">(a)</text>
<text x="87.1" y="1045.6" font-size="35.5">(b)</text>
<text x="87" y="829" font-size="34" font-weight="bold">(c)</text>
<text x="92.1" y="580" font-size="34" font-weight="bold">(d)</text>
<text x="90.1" y="129.1" font-size="34" font-weight="bold">(e)</text>
<text x="226.9" y="76.4" font-size="47">i</text>
<text x="264.6" y="76.4" font-size="47">ii</text>
<text x="620.8" y="76.4" font-size="47">iii</text>
<text x="679.1" y="76.4" font-size="47">iv</text>
<text x="741.3" y="76.4" font-size="47">v</text>
</svg></body></html>
